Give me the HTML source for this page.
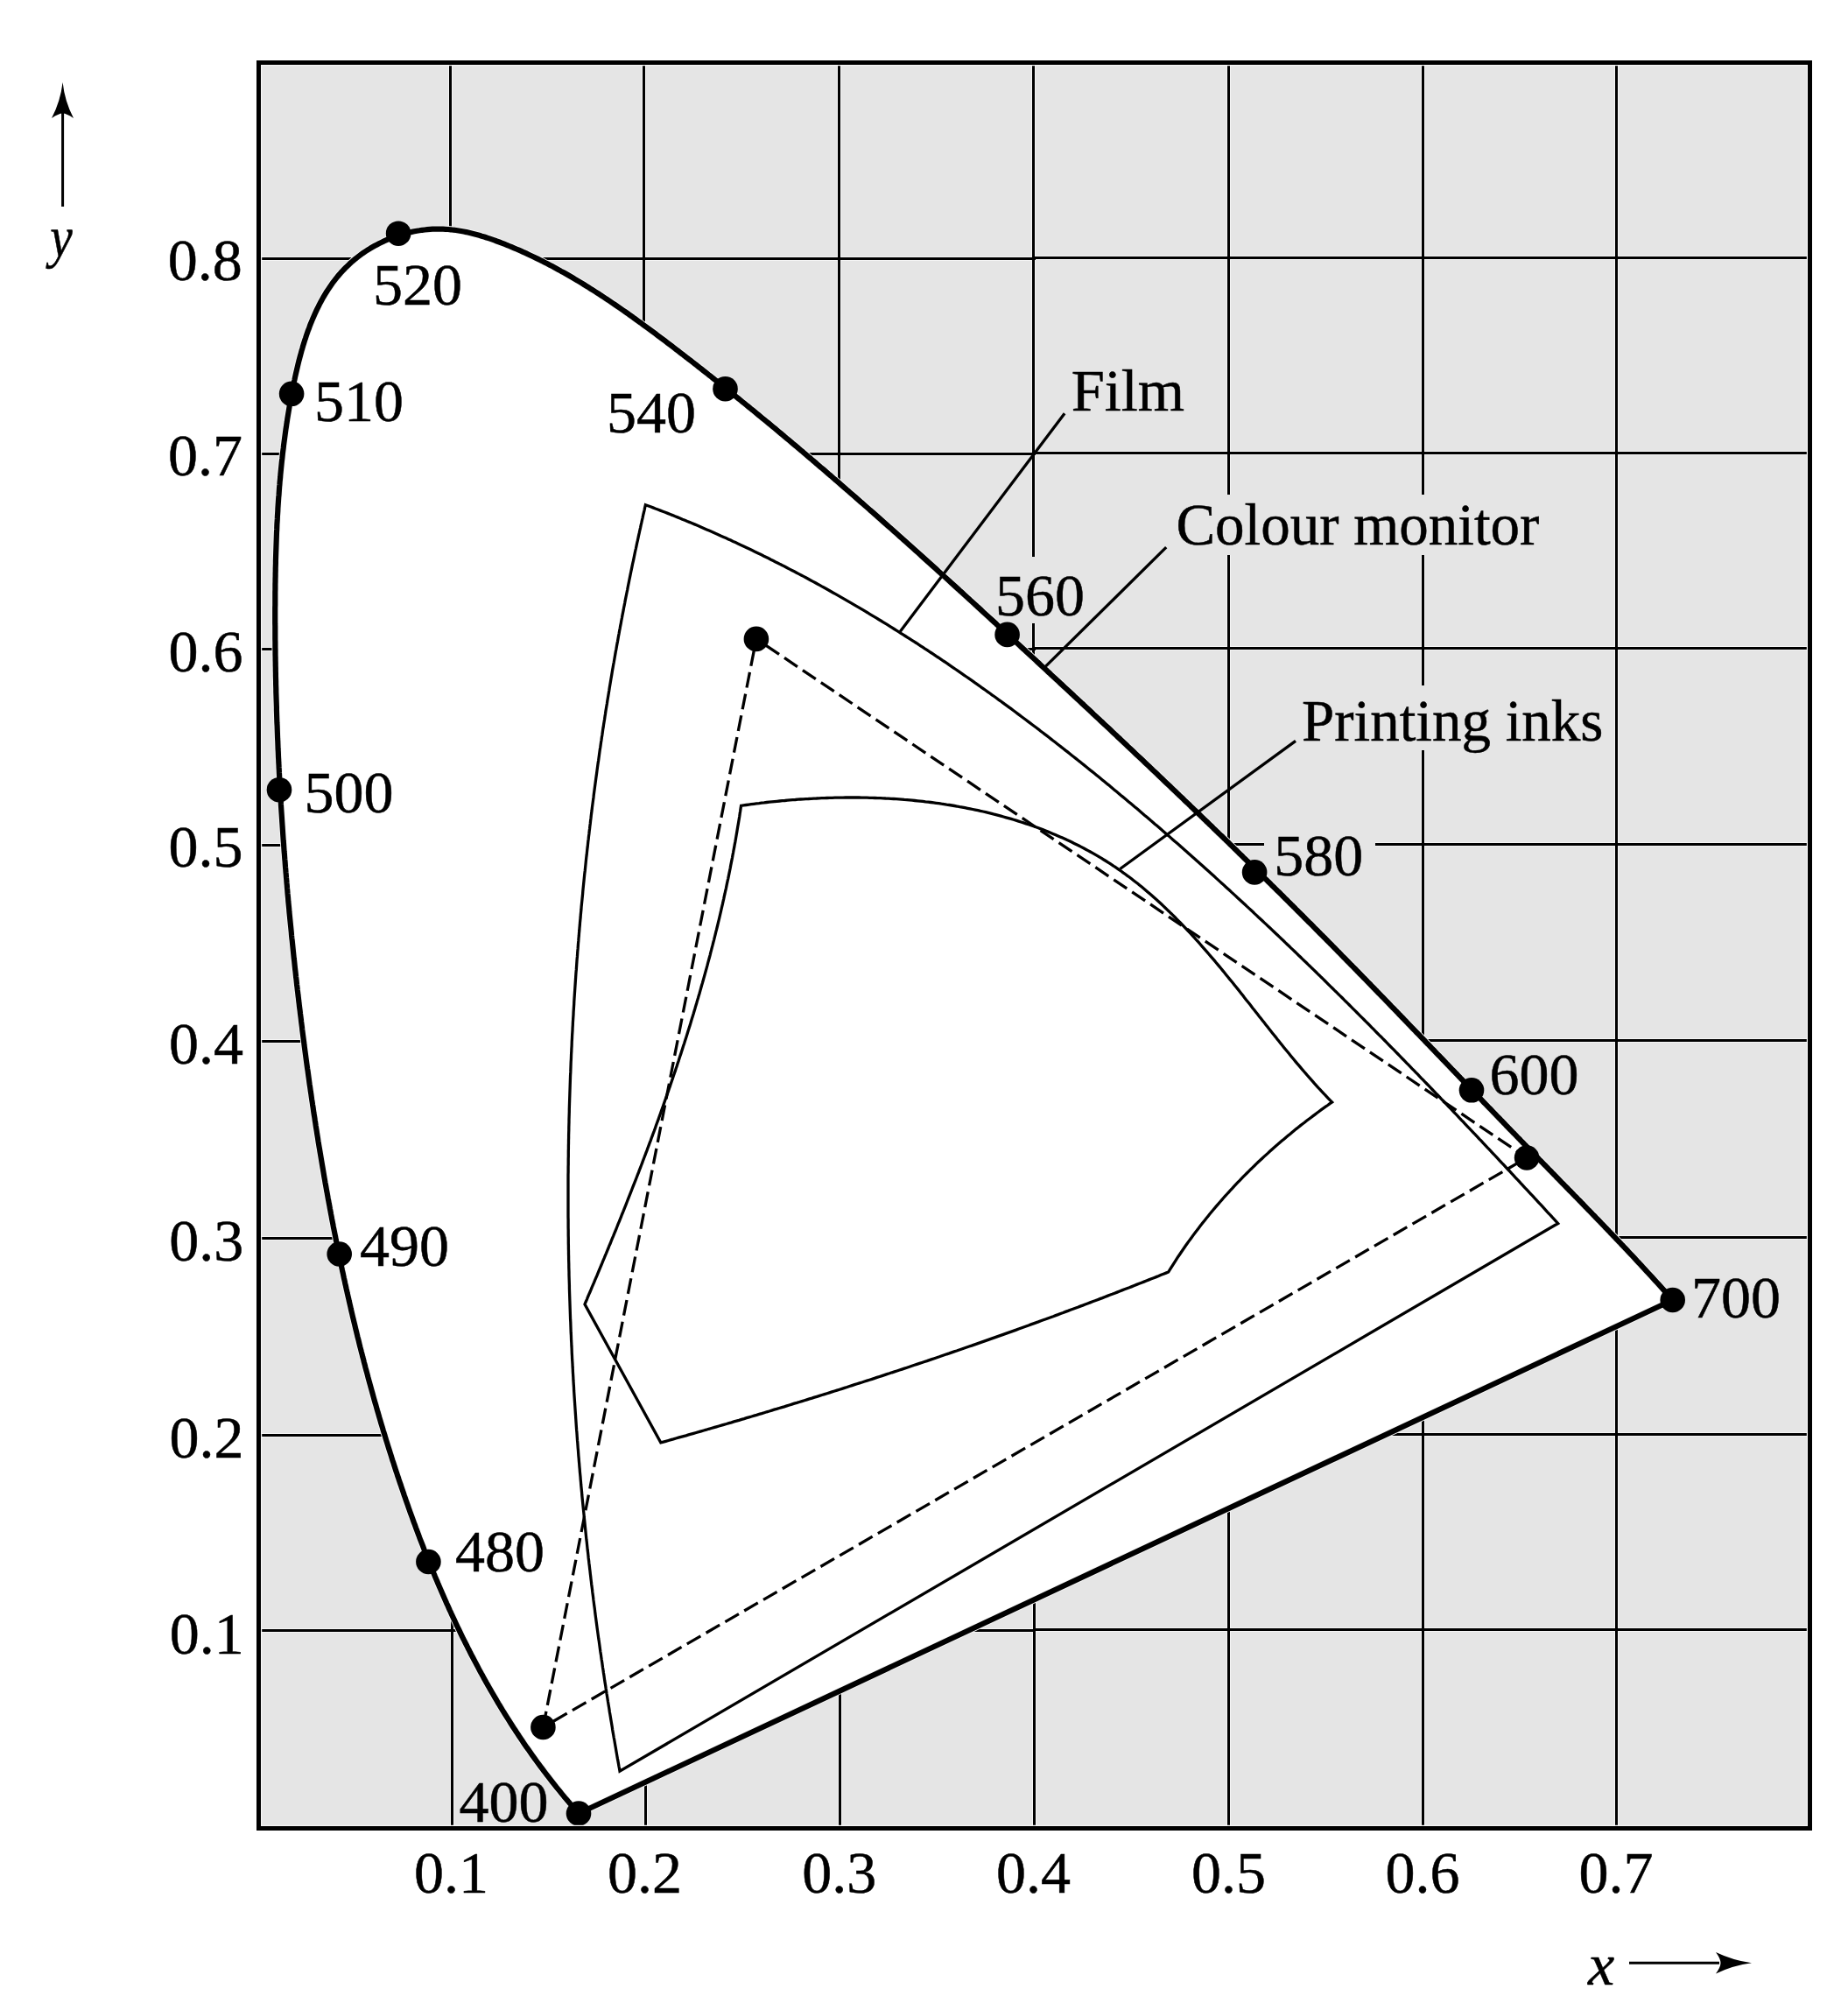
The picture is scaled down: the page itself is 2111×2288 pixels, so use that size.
<!DOCTYPE html><html><head><meta charset="utf-8"><style>html,body{margin:0;padding:0;background:#fff;}svg{display:block}</style></head><body>
<svg width="2111" height="2288" viewBox="0 0 2111 2288">
<rect x="0" y="0" width="2111" height="2288" fill="#fff"/>
<rect x="298" y="74" width="1767" height="2012" fill="#e5e5e5"/>
<path d="M514.5,74.0 L514.5,744.7 M515.5,744.7 L515.5,1415.3 M516.5,1415.3 L516.5,2086.0 M735.5,74.0 L735.5,744.7 M736.5,744.7 L736.5,1415.3 M737.5,1415.3 L737.5,2086.0 M958.5,74.0 L958.5,1080.0 M959.5,1080.0 L959.5,2086.0 M1180.5,74.0 L1180.5,1080.0 M1181.5,1080.0 L1181.5,2086.0 M1403.5,74.0 L1403.5,2086.0 M1625.5,74.0 L1625.5,2086.0 M1846.5,74.0 L1846.5,2086.0 M298.0,295.5 L1181.5,295.5 M1181.5,294.5 L2065.0,294.5 M298.0,518.5 L1181.5,518.5 M1181.5,517.5 L2065.0,517.5 M298.0,741.5 L1181.5,741.5 M1181.5,740.5 L2065.0,740.5 M298.0,965.5 L1181.5,965.5 M1181.5,964.5 L2065.0,964.5 M298.0,1189.5 L1181.5,1189.5 M1181.5,1188.5 L2065.0,1188.5 M298.0,1414.5 L1181.5,1414.5 M1181.5,1413.5 L2065.0,1413.5 M298.0,1639.5 L1181.5,1639.5 M1181.5,1638.5 L2065.0,1638.5 M298.0,1862.5 L1181.5,1862.5 M1181.5,1861.5 L2065.0,1861.5" stroke="#f5f5f5" stroke-width="5" fill="none" stroke-linecap="butt"/>
<path d="M514.5,74.0 L514.5,744.7 M515.5,744.7 L515.5,1415.3 M516.5,1415.3 L516.5,2086.0 M735.5,74.0 L735.5,744.7 M736.5,744.7 L736.5,1415.3 M737.5,1415.3 L737.5,2086.0 M958.5,74.0 L958.5,1080.0 M959.5,1080.0 L959.5,2086.0 M1180.5,74.0 L1180.5,1080.0 M1181.5,1080.0 L1181.5,2086.0 M1403.5,74.0 L1403.5,2086.0 M1625.5,74.0 L1625.5,2086.0 M1846.5,74.0 L1846.5,2086.0 M298.0,295.5 L1181.5,295.5 M1181.5,294.5 L2065.0,294.5 M298.0,518.5 L1181.5,518.5 M1181.5,517.5 L2065.0,517.5 M298.0,741.5 L1181.5,741.5 M1181.5,740.5 L2065.0,740.5 M298.0,965.5 L1181.5,965.5 M1181.5,964.5 L2065.0,964.5 M298.0,1189.5 L1181.5,1189.5 M1181.5,1188.5 L2065.0,1188.5 M298.0,1414.5 L1181.5,1414.5 M1181.5,1413.5 L2065.0,1413.5 M298.0,1639.5 L1181.5,1639.5 M1181.5,1638.5 L2065.0,1638.5 M298.0,1862.5 L1181.5,1862.5 M1181.5,1861.5 L2065.0,1861.5" stroke="#000" stroke-width="3" fill="none" stroke-linecap="square"/>
<path d="M661.0,2071.5L659.0,2069.2L657.0,2067.0L655.0,2064.7L653.0,2062.4L651.1,2060.1L649.1,2057.8L647.2,2055.5L645.2,2053.2L643.3,2050.9L641.4,2048.6L639.5,2046.2L637.6,2043.9L635.7,2041.6L633.8,2039.2L632.0,2036.9L630.1,2034.5L628.3,2032.1L626.4,2029.7L624.6,2027.4L622.8,2025.0L621.0,2022.6L619.2,2020.2L617.4,2017.8L615.6,2015.4L613.8,2013.0L612.0,2010.5L610.3,2008.1L608.5,2005.7L606.8,2003.2L605.1,2000.8L603.4,1998.3L601.6,1995.9L599.9,1993.4L598.2,1990.9L596.6,1988.5L594.9,1986.0L593.2,1983.5L591.6,1981.0L589.9,1978.5L588.3,1976.0L586.6,1973.5L585.0,1971.0L583.4,1968.5L581.8,1965.9L580.2,1963.4L578.6,1960.9L577.0,1958.3L575.5,1955.8L573.9,1953.3L572.3,1950.7L570.8,1948.1L569.2,1945.6L567.7,1943.0L566.2,1940.4L564.7,1937.9L563.2,1935.3L561.7,1932.7L560.2,1930.1L558.7,1927.5L557.2,1924.9L555.7,1922.3L554.3,1919.7L552.8,1917.1L551.4,1914.4L549.9,1911.8L548.5,1909.2L547.1,1906.6L545.7,1903.9L544.3,1901.3L542.9,1898.6L541.5,1896.0L540.1,1893.3L538.7,1890.7L537.3,1888.0L536.0,1885.3L534.6,1882.7L533.3,1880.0L531.9,1877.3L530.6,1874.6L529.2,1872.0L527.9,1869.3L526.6,1866.6L525.3,1863.9L524.0,1861.2L522.7,1858.5L521.4,1855.8L520.1,1853.1L518.9,1850.3L517.6,1847.6L516.3,1844.9L515.1,1842.2L513.8,1839.5L512.6,1836.7L511.4,1834.0L510.1,1831.3L508.9,1828.5L507.7,1825.8L506.5,1823.0L505.3,1820.3L504.1,1817.5L502.9,1814.8L501.7,1812.0L500.5,1809.3L499.4,1806.5L498.2,1803.7L497.0,1801.0L495.9,1798.2L494.7,1795.4L493.6,1792.6L492.4,1789.9L491.3,1787.1L490.2,1784.3L489.1,1781.5L488.0,1778.7L486.8,1775.9L485.7,1773.1L484.6,1770.3L483.6,1767.5L482.5,1764.7L481.4,1761.9L480.3,1759.1L479.2,1756.3L478.2,1753.5L477.1,1750.7L476.1,1747.9L475.0,1745.1L474.0,1742.2L472.9,1739.4L471.9,1736.6L470.9,1733.8L469.9,1731.0L468.8,1728.1L467.8,1725.3L466.8,1722.5L465.8,1719.6L464.8,1716.8L463.8,1714.0L462.8,1711.1L461.8,1708.3L460.9,1705.5L459.9,1702.6L458.9,1699.8L458.0,1696.9L457.0,1694.1L456.0,1691.3L455.1,1688.4L454.1,1685.6L453.2,1682.7L452.2,1679.9L451.3,1677.0L450.4,1674.2L449.5,1671.3L448.5,1668.5L447.6,1665.6L446.7,1662.7L445.8,1659.9L444.9,1657.0L444.0,1654.2L443.1,1651.3L442.2,1648.4L441.3,1645.6L440.4,1642.7L439.6,1639.8L438.7,1637.0L437.8,1634.1L437.0,1631.2L436.1,1628.4L435.2,1625.5L434.4,1622.6L433.5,1619.7L432.7,1616.9L431.9,1614.0L431.0,1611.1L430.2,1608.2L429.4,1605.3L428.5,1602.5L427.7,1599.6L426.9,1596.7L426.1,1593.8L425.3,1590.9L424.5,1588.0L423.7,1585.2L422.9,1582.3L422.1,1579.4L421.3,1576.5L420.5,1573.6L419.8,1570.7L419.0,1567.8L418.2,1564.9L417.4,1562.0L416.7,1559.1L415.9,1556.2L415.2,1553.3L414.4,1550.4L413.7,1547.5L412.9,1544.6L412.2,1541.7L411.4,1538.8L410.7,1535.9L410.0,1533.0L409.3,1530.1L408.5,1527.2L407.8,1524.3L407.1,1521.3L406.4,1518.4L405.7,1515.5L405.0,1512.6L404.3,1509.7L403.6,1506.8L402.9,1503.9L402.2,1500.9L401.5,1498.0L400.8,1495.1L400.2,1492.2L399.5,1489.3L398.8,1486.3L398.2,1483.4L397.5,1480.5L396.8,1477.6L396.2,1474.7L395.5,1471.7L394.9,1468.8L394.2,1465.9L393.6,1462.9L392.9,1460.0L392.3,1457.1L391.7,1454.2L391.0,1451.2L390.4,1448.3L389.8,1445.4L389.2,1442.4L388.6,1439.5L387.9,1436.6L387.3,1433.6L386.7,1430.7L386.1,1427.7L385.5,1424.8L384.9,1421.9L384.3,1418.9L383.7,1416.0L383.2,1413.0L382.6,1410.1L382.0,1407.2L381.4,1404.2L380.8,1401.3L380.3,1398.3L379.7,1395.4L379.1,1392.4L378.6,1389.5L378.0,1386.5L377.5,1383.6L376.9,1380.6L376.4,1377.7L375.8,1374.7L375.3,1371.8L374.7,1368.8L374.2,1365.9L373.7,1362.9L373.1,1360.0L372.6,1357.0L372.1,1354.1L371.5,1351.1L371.0,1348.1L370.5,1345.2L370.0,1342.2L369.5,1339.3L369.0,1336.3L368.5,1333.4L368.0,1330.4L367.5,1327.4L367.0,1324.5L366.5,1321.5L366.0,1318.5L365.5,1315.6L365.0,1312.6L364.5,1309.7L364.0,1306.7L363.5,1303.7L363.1,1300.8L362.6,1297.8L362.1,1294.8L361.7,1291.9L361.2,1288.9L360.7,1285.9L360.3,1283.0L359.8,1280.0L359.4,1277.0L358.9,1274.1L358.4,1271.1L358.0,1268.1L357.6,1265.1L357.1,1262.2L356.7,1259.2L356.2,1256.2L355.8,1253.3L355.4,1250.3L354.9,1247.3L354.5,1244.3L354.1,1241.4L353.6,1238.4L353.2,1235.4L352.8,1232.4L352.4,1229.5L352.0,1226.5L351.6,1223.5L351.1,1220.5L350.7,1217.5L350.3,1214.6L349.9,1211.6L349.5,1208.6L349.1,1205.6L348.7,1202.7L348.3,1199.7L347.9,1196.7L347.5,1193.7L347.2,1190.7L346.8,1187.8L346.4,1184.8L346.0,1181.8L345.6,1178.8L345.2,1175.8L344.9,1172.8L344.5,1169.9L344.1,1166.9L343.8,1163.9L343.4,1160.9L343.0,1157.9L342.7,1154.9L342.3,1152.0L341.9,1149.0L341.6,1146.0L341.2,1143.0L340.9,1140.0L340.5,1137.0L340.2,1134.1L339.8,1131.1L339.5,1128.1L339.1,1125.1L338.8,1122.1L338.5,1119.1L338.1,1116.1L337.8,1113.1L337.5,1110.2L337.1,1107.2L336.8,1104.2L336.5,1101.2L336.2,1098.2L335.8,1095.2L335.5,1092.2L335.2,1089.2L334.9,1086.3L334.6,1083.3L334.3,1080.3L334.0,1077.3L333.7,1074.3L333.3,1071.3L333.0,1068.3L332.8,1065.3L332.5,1062.3L332.2,1059.3L331.9,1056.4L331.6,1053.4L331.3,1050.4L331.0,1047.4L330.7,1044.4L330.4,1041.4L330.2,1038.4L329.9,1035.4L329.6,1032.4L329.3,1029.4L329.1,1026.4L328.8,1023.4L328.5,1020.5L328.3,1017.5L328.0,1014.5L327.8,1011.5L327.5,1008.5L327.3,1005.5L327.0,1002.5L326.8,999.5L326.5,996.5L326.3,993.5L326.0,990.5L325.8,987.5L325.6,984.5L325.3,981.5L325.1,978.6L324.9,975.6L324.6,972.6L324.4,969.6L324.2,966.6L324.0,963.6L323.7,960.6L323.5,957.6L323.3,954.6L323.1,951.6L322.9,948.6L322.7,945.6L322.5,942.6L322.3,939.6L322.1,936.6L321.9,933.6L321.7,930.6L321.5,927.7L321.3,924.7L321.1,921.7L320.9,918.7L320.8,915.7L320.6,912.7L320.4,909.7L320.2,906.7L320.1,903.7L319.9,900.7L319.7,897.7L319.6,894.7L319.4,891.7L319.2,888.7L319.1,885.7L318.9,882.7L318.8,879.7L318.6,876.7L318.5,873.7L318.3,870.8L318.2,867.8L318.0,864.8L317.9,861.8L317.8,858.8L317.6,855.8L317.5,852.8L317.4,849.8L317.3,846.8L317.1,843.8L317.0,840.8L316.9,837.8L316.8,834.8L316.7,831.8L316.6,828.8L316.4,825.8L316.3,822.9L316.2,819.9L316.1,816.9L316.0,813.9L315.9,810.9L315.9,807.9L315.8,804.9L315.7,801.9L315.6,798.9L315.5,795.9L315.4,792.9L315.3,789.9L315.3,786.9L315.2,783.9L315.1,781.0L315.1,778.0L315.0,775.0L314.9,772.0L314.9,769.0L314.8,766.0L314.8,763.0L314.7,760.0L314.7,757.0L314.6,754.0L314.6,751.0L314.5,748.0L314.5,745.1L314.5,742.1L314.4,739.1L314.4,736.1L314.4,733.1L314.3,730.1L314.3,727.1L314.3,724.1L314.3,721.1L314.3,718.2L314.3,715.2L314.2,712.2L314.2,709.2L314.2,706.2L314.2,703.2L314.2,700.2L314.2,697.2L314.2,694.3L314.3,691.3L314.3,688.3L314.3,685.3L314.3,682.3L314.3,679.3L314.3,676.3L314.4,673.3L314.4,670.4L314.4,667.4L314.5,664.4L314.5,661.4L314.6,658.4L314.6,655.4L314.7,652.4L314.7,649.5L314.8,646.5L314.9,643.5L314.9,640.5L315.0,637.5L315.1,634.5L315.2,631.5L315.3,628.6L315.4,625.6L315.5,622.6L315.6,619.6L315.7,616.6L315.8,613.6L315.9,610.6L316.0,607.7L316.2,604.7L316.3,601.7L316.4,598.7L316.6,595.7L316.8,592.7L316.9,589.7L317.1,586.7L317.3,583.8L317.4,580.8L317.6,577.8L317.8,574.8L318.0,571.8L318.2,568.8L318.5,565.8L318.7,562.8L318.9,559.8L319.1,556.8L319.4,553.8L319.6,550.8L319.9,547.9L320.2,544.9L320.4,541.9L320.7,538.9L321.0,535.9L321.3,532.9L321.6,529.9L321.9,526.9L322.3,523.9L322.6,520.9L322.9,517.9L323.3,514.9L323.7,511.9L324.0,508.9L324.4,505.9L324.8,502.9L325.2,499.9L325.6,496.9L326.0,493.9L326.4,490.8L326.9,487.8L327.3,484.8L327.8,481.8L328.2,478.8L328.7,475.8L329.2,472.8L329.7,469.8L330.2,466.8L330.7,463.7L331.2,460.7L331.8,457.7L332.3,454.7L332.9,451.7L333.4,448.7L334.0,445.6L334.6,442.6L335.2,439.6L335.8,436.6L336.5,433.6L337.1,430.6L337.8,427.5L338.5,424.5L339.2,421.5L339.9,418.5L340.6,415.6L341.3,412.6L342.1,409.6L342.9,406.6L343.7,403.7L344.5,400.7L345.4,397.8L346.2,394.9L347.1,392.0L348.0,389.1L349.0,386.2L349.9,383.3L350.9,380.5L351.9,377.6L353.0,374.8L354.0,372.0L355.1,369.2L356.3,366.4L357.4,363.7L358.6,361.0L359.8,358.2L361.0,355.6L362.3,352.9L363.6,350.3L364.9,347.6L366.3,345.0L367.7,342.5L369.1,339.9L370.6,337.4L372.1,334.9L373.6,332.5L375.2,330.1L376.8,327.7L378.5,325.3L380.1,322.9L381.9,320.6L383.6,318.4L385.4,316.1L387.3,313.9L389.2,311.7L391.1,309.6L393.1,307.5L395.1,305.4L397.2,303.4L399.3,301.4L401.4,299.5L403.6,297.6L405.9,295.7L408.2,293.9L410.5,292.1L412.9,290.3L415.3,288.6L417.7,287.0L420.2,285.4L422.8,283.8L425.4,282.3L428.0,280.8L430.6,279.4L433.3,278.0L436.0,276.7L438.7,275.4L441.5,274.2L444.2,273.0L447.0,271.9L449.9,270.8L452.7,269.8L455.6,268.9L458.5,268.0L461.4,267.1L464.3,266.3L467.2,265.6L470.2,264.9L473.2,264.3L476.1,263.7L479.1,263.3L482.1,262.8L485.1,262.5L488.1,262.2L491.1,261.9L494.1,261.7L497.1,261.6L500.1,261.6L503.1,261.6L506.1,261.7L509.0,261.8L512.0,262.0L515.0,262.3L518.0,262.7L520.9,263.0L523.9,263.5L526.9,264.0L529.8,264.5L532.7,265.1L535.7,265.8L538.6,266.5L541.5,267.2L544.5,268.0L547.4,268.8L550.3,269.7L553.2,270.5L556.0,271.5L558.9,272.4L561.8,273.4L564.7,274.4L567.5,275.5L570.4,276.5L573.2,277.6L576.0,278.7L578.9,279.8L581.7,281.0L584.5,282.2L587.2,283.3L590.0,284.5L592.8,285.7L595.6,286.9L598.3,288.2L601.1,289.4L603.8,290.7L606.5,292.0L609.2,293.3L612.0,294.6L614.7,295.9L617.4,297.2L620.0,298.6L622.7,300.0L625.4,301.3L628.0,302.7L630.7,304.1L633.3,305.5L636.0,307.0L638.6,308.4L641.2,309.9L643.9,311.3L646.5,312.8L649.1,314.3L651.7,315.8L654.3,317.3L656.8,318.8L659.4,320.4L662.0,321.9L664.5,323.4L667.1,325.0L669.6,326.6L672.2,328.2L674.7,329.8L677.3,331.4L679.8,333.0L682.3,334.6L684.8,336.2L687.3,337.9L689.8,339.5L692.3,341.2L694.8,342.8L697.3,344.5L699.8,346.2L702.3,347.9L704.8,349.6L707.2,351.3L709.7,353.0L712.2,354.7L714.6,356.4L717.1,358.1L719.5,359.9L722.0,361.6L724.4,363.4L726.8,365.1L729.3,366.9L731.7,368.6L734.1,370.4L736.5,372.2L739.0,374.0L741.4,375.7L743.8,377.5L746.2,379.3L748.6,381.1L751.0,382.9L753.4,384.7L755.8,386.5L758.2,388.3L760.6,390.1L763.0,392.0L765.4,393.8L767.8,395.6L770.1,397.4L772.5,399.3L774.9,401.1L777.3,402.9L779.7,404.7L782.0,406.6L784.4,408.4L786.8,410.3L789.2,412.1L791.5,413.9L793.9,415.8L796.3,417.6L798.6,419.5L801.0,421.3L803.4,423.2L805.7,425.0L808.1,426.9L810.4,428.8L812.8,430.6L815.1,432.5L817.5,434.4L819.8,436.2L822.2,438.1L824.5,440.0L826.9,441.8L829.2,443.7L831.6,445.6L833.9,447.5L836.2,449.3L838.6,451.2L840.9,453.1L843.2,455.0L845.6,456.9L847.9,458.8L850.2,460.7L852.6,462.6L854.9,464.5L857.2,466.4L859.5,468.2L861.9,470.2L864.2,472.1L866.5,474.0L868.8,475.9L871.1,477.8L873.4,479.7L875.8,481.6L878.1,483.5L880.4,485.4L882.7,487.3L885.0,489.2L887.3,491.2L889.6,493.1L891.9,495.0L894.2,496.9L896.5,498.9L898.8,500.8L901.1,502.7L903.4,504.6L905.7,506.6L908.0,508.5L910.3,510.4L912.6,512.4L914.9,514.3L917.2,516.2L919.4,518.2L921.7,520.1L924.0,522.1L926.3,524.0L928.6,526.0L930.9,527.9L933.1,529.9L935.4,531.8L937.7,533.8L940.0,535.7L942.3,537.7L944.5,539.6L946.8,541.6L949.1,543.5L951.3,545.5L953.6,547.5L955.9,549.4L958.2,551.4L960.4,553.3L962.7,555.3L965.0,557.3L967.2,559.3L969.5,561.2L971.7,563.2L974.0,565.2L976.3,567.1L978.5,569.1L980.8,571.1L983.0,573.1L985.3,575.0L987.5,577.0L989.8,579.0L992.1,581.0L994.3,583.0L996.6,584.9L998.8,586.9L1001.1,588.9L1003.3,590.9L1005.6,592.9L1007.8,594.9L1010.0,596.9L1012.3,598.9L1014.5,600.9L1016.8,602.8L1019.0,604.8L1021.3,606.8L1023.5,608.8L1025.7,610.8L1028.0,612.8L1030.2,614.8L1032.5,616.8L1034.7,618.8L1036.9,620.8L1039.2,622.8L1041.4,624.8L1043.6,626.8L1045.9,628.8L1048.1,630.8L1050.3,632.8L1052.6,634.9L1054.8,636.9L1057.0,638.9L1059.2,640.9L1061.5,642.9L1063.7,644.9L1065.9,646.9L1068.2,648.9L1070.4,650.9L1072.6,653.0L1074.8,655.0L1077.0,657.0L1079.3,659.0L1081.5,661.0L1083.7,663.0L1085.9,665.1L1088.2,667.1L1090.4,669.1L1092.6,671.1L1094.8,673.1L1097.0,675.2L1099.3,677.2L1101.5,679.2L1103.7,681.2L1105.9,683.2L1108.1,685.3L1110.3,687.3L1112.5,689.3L1114.8,691.3L1117.0,693.4L1119.2,695.4L1121.4,697.4L1123.6,699.5L1125.8,701.5L1128.0,703.5L1130.2,705.5L1132.5,707.6L1134.7,709.6L1136.9,711.6L1139.1,713.7L1141.3,715.7L1143.5,717.7L1145.7,719.8L1147.9,721.8L1150.1,723.8L1152.3,725.9L1154.6,727.9L1156.8,729.9L1159.0,732.0L1161.2,734.0L1163.4,736.0L1165.6,738.1L1167.8,740.1L1170.0,742.1L1172.2,744.2L1174.4,746.2L1176.6,748.2L1178.8,750.3L1181.0,752.3L1183.2,754.3L1185.4,756.4L1187.6,758.4L1189.8,760.5L1192.0,762.5L1194.2,764.5L1196.4,766.6L1198.6,768.6L1200.8,770.7L1203.0,772.7L1205.2,774.7L1207.4,776.8L1209.6,778.8L1211.8,780.9L1214.0,782.9L1216.2,785.0L1218.4,787.0L1220.6,789.0L1222.8,791.1L1225.0,793.1L1227.2,795.2L1229.4,797.2L1231.6,799.3L1233.8,801.3L1236.0,803.4L1238.2,805.4L1240.4,807.5L1242.6,809.5L1244.8,811.6L1246.9,813.6L1249.1,815.7L1251.3,817.7L1253.5,819.8L1255.7,821.8L1257.9,823.9L1260.1,825.9L1262.3,828.0L1264.5,830.0L1266.7,832.1L1268.8,834.1L1271.0,836.2L1273.2,838.3L1275.4,840.3L1277.6,842.4L1279.8,844.4L1282.0,846.5L1284.1,848.5L1286.3,850.6L1288.5,852.7L1290.7,854.7L1292.9,856.8L1295.0,858.8L1297.2,860.9L1299.4,863.0L1301.6,865.0L1303.8,867.1L1305.9,869.1L1308.1,871.2L1310.3,873.3L1312.5,875.3L1314.7,877.4L1316.8,879.5L1319.0,881.5L1321.2,883.6L1323.4,885.7L1325.5,887.7L1327.7,889.8L1329.9,891.9L1332.0,893.9L1334.2,896.0L1336.4,898.1L1338.6,900.2L1340.7,902.2L1342.9,904.3L1345.1,906.4L1347.2,908.5L1349.4,910.5L1351.6,912.6L1353.7,914.7L1355.9,916.8L1358.1,918.8L1360.2,920.9L1362.4,923.0L1364.5,925.1L1366.7,927.1L1368.9,929.2L1371.0,931.3L1373.2,933.4L1375.3,935.5L1377.5,937.6L1379.7,939.6L1381.8,941.7L1384.0,943.8L1386.1,945.9L1388.3,948.0L1390.4,950.1L1392.6,952.2L1394.8,954.2L1396.9,956.3L1399.1,958.4L1401.2,960.5L1403.4,962.6L1405.5,964.7L1407.7,966.8L1409.8,968.9L1412.0,971.0L1414.1,973.1L1416.2,975.2L1418.4,977.3L1420.5,979.4L1422.7,981.5L1424.8,983.6L1427.0,985.6L1429.1,987.7L1431.3,989.8L1433.4,991.9L1435.5,994.1L1437.7,996.2L1439.8,998.3L1442.0,1000.4L1444.1,1002.5L1446.2,1004.6L1448.4,1006.7L1450.5,1008.8L1452.6,1010.9L1454.8,1013.0L1456.9,1015.1L1459.0,1017.2L1461.2,1019.3L1463.3,1021.4L1465.4,1023.5L1467.5,1025.7L1469.7,1027.8L1471.8,1029.9L1473.9,1032.0L1476.0,1034.1L1478.2,1036.2L1480.3,1038.4L1482.4,1040.5L1484.5,1042.6L1486.7,1044.7L1488.8,1046.8L1490.9,1049.0L1493.0,1051.1L1495.1,1053.2L1497.3,1055.3L1499.4,1057.4L1501.5,1059.6L1503.6,1061.7L1505.7,1063.8L1507.8,1066.0L1509.9,1068.1L1512.1,1070.2L1514.2,1072.3L1516.3,1074.5L1518.4,1076.6L1520.5,1078.7L1522.6,1080.9L1524.7,1083.0L1526.8,1085.1L1528.9,1087.3L1531.0,1089.4L1533.1,1091.6L1535.2,1093.7L1537.3,1095.8L1539.4,1098.0L1541.5,1100.1L1543.6,1102.3L1545.7,1104.4L1547.8,1106.5L1549.9,1108.7L1552.0,1110.8L1554.1,1113.0L1556.2,1115.1L1558.3,1117.3L1560.4,1119.4L1562.5,1121.6L1564.6,1123.7L1566.6,1125.9L1568.7,1128.0L1570.8,1130.2L1572.9,1132.3L1575.0,1134.5L1577.1,1136.6L1579.2,1138.8L1581.3,1140.9L1583.4,1143.1L1585.4,1145.2L1587.5,1147.4L1589.6,1149.6L1591.7,1151.7L1593.8,1153.9L1595.9,1156.0L1597.9,1158.2L1600.0,1160.3L1602.1,1162.5L1604.2,1164.7L1606.3,1166.8L1608.3,1169.0L1610.4,1171.1L1612.5,1173.3L1614.6,1175.5L1616.7,1177.6L1618.7,1179.8L1620.8,1181.9L1622.9,1184.1L1625.0,1186.3L1627.1,1188.4L1629.1,1190.6L1631.2,1192.7L1633.3,1194.9L1635.4,1197.1L1637.5,1199.2L1639.5,1201.4L1641.6,1203.6L1643.7,1205.7L1645.8,1207.9L1647.8,1210.0L1649.9,1212.2L1652.0,1214.4L1654.1,1216.5L1656.1,1218.7L1658.2,1220.9L1660.3,1223.0L1662.4,1225.2L1664.5,1227.3L1666.5,1229.5L1668.6,1231.7L1670.7,1233.8L1672.8,1236.0L1674.8,1238.2L1676.9,1240.3L1679.0,1242.5L1681.1,1244.6L1683.2,1246.8L1685.2,1249.0L1687.3,1251.1L1689.4,1253.3L1691.5,1255.4L1693.6,1257.6L1695.6,1259.8L1697.7,1261.9L1699.8,1264.1L1701.9,1266.2L1704.0,1268.4L1706.1,1270.6L1708.1,1272.7L1710.2,1274.9L1712.3,1277.0L1714.4,1279.2L1716.5,1281.3L1718.6,1283.5L1720.6,1285.7L1722.7,1287.8L1724.8,1290.0L1726.9,1292.1L1729.0,1294.3L1731.1,1296.4L1733.2,1298.6L1735.3,1300.7L1737.3,1302.9L1739.4,1305.0L1741.5,1307.2L1743.6,1309.3L1745.7,1311.5L1747.8,1313.6L1749.9,1315.8L1752.0,1317.9L1754.1,1320.1L1756.2,1322.2L1758.3,1324.4L1760.4,1326.5L1762.5,1328.6L1764.6,1330.8L1766.7,1332.9L1768.8,1335.1L1770.9,1337.2L1773.0,1339.4L1775.1,1341.5L1777.2,1343.6L1779.2,1345.8L1781.3,1347.9L1783.4,1350.1L1785.5,1352.2L1787.6,1354.4L1789.7,1356.5L1791.8,1358.7L1793.9,1360.8L1796.0,1362.9L1798.1,1365.1L1800.2,1367.2L1802.3,1369.4L1804.4,1371.5L1806.5,1373.7L1808.6,1375.8L1810.6,1378.0L1812.7,1380.1L1814.8,1382.3L1816.9,1384.4L1819.0,1386.6L1821.1,1388.7L1823.1,1390.9L1825.2,1393.0L1827.3,1395.2L1829.4,1397.4L1831.5,1399.5L1833.5,1401.7L1835.6,1403.8L1837.7,1406.0L1839.7,1408.2L1841.8,1410.3L1843.9,1412.5L1845.9,1414.7L1848.0,1416.8L1850.1,1419.0L1852.1,1421.2L1854.2,1423.3L1856.2,1425.5L1858.3,1427.7L1860.3,1429.9L1862.4,1432.1L1864.4,1434.2L1866.5,1436.4L1868.5,1438.6L1870.5,1440.8L1872.6,1443.0L1874.6,1445.2L1876.6,1447.4L1878.7,1449.6L1880.7,1451.8L1882.7,1454.0L1884.7,1456.2L1886.8,1458.4L1888.8,1460.6L1890.8,1462.8L1892.8,1465.0L1894.8,1467.2L1896.8,1469.4L1898.8,1471.6L1900.8,1473.9L1902.8,1476.1L1904.8,1478.3L1906.7,1480.5L1908.7,1482.8L1910.7,1485.0 L661.0,2071.5 Z" fill="#fff" stroke="none"/>
<rect x="1170" y="636" width="22" height="76" fill="#e5e5e5"/>
<rect x="1392" y="565" width="22" height="69" fill="#e5e5e5"/>
<rect x="1614" y="565" width="22" height="69" fill="#e5e5e5"/>
<rect x="1614" y="783" width="22" height="74" fill="#e5e5e5"/>
<rect x="1444" y="954" width="127" height="22" fill="#e5e5e5"/>
<path d="M661.0,2071.5L659.0,2069.2L657.0,2067.0L655.0,2064.7L653.0,2062.4L651.1,2060.1L649.1,2057.8L647.2,2055.5L645.2,2053.2L643.3,2050.9L641.4,2048.6L639.5,2046.2L637.6,2043.9L635.7,2041.6L633.8,2039.2L632.0,2036.9L630.1,2034.5L628.3,2032.1L626.4,2029.7L624.6,2027.4L622.8,2025.0L621.0,2022.6L619.2,2020.2L617.4,2017.8L615.6,2015.4L613.8,2013.0L612.0,2010.5L610.3,2008.1L608.5,2005.7L606.8,2003.2L605.1,2000.8L603.4,1998.3L601.6,1995.9L599.9,1993.4L598.2,1990.9L596.6,1988.5L594.9,1986.0L593.2,1983.5L591.6,1981.0L589.9,1978.5L588.3,1976.0L586.6,1973.5L585.0,1971.0L583.4,1968.5L581.8,1965.9L580.2,1963.4L578.6,1960.9L577.0,1958.3L575.5,1955.8L573.9,1953.3L572.3,1950.7L570.8,1948.1L569.2,1945.6L567.7,1943.0L566.2,1940.4L564.7,1937.9L563.2,1935.3L561.7,1932.7L560.2,1930.1L558.7,1927.5L557.2,1924.9L555.7,1922.3L554.3,1919.7L552.8,1917.1L551.4,1914.4L549.9,1911.8L548.5,1909.2L547.1,1906.6L545.7,1903.9L544.3,1901.3L542.9,1898.6L541.5,1896.0L540.1,1893.3L538.7,1890.7L537.3,1888.0L536.0,1885.3L534.6,1882.7L533.3,1880.0L531.9,1877.3L530.6,1874.6L529.2,1872.0L527.9,1869.3L526.6,1866.6L525.3,1863.9L524.0,1861.2L522.7,1858.5L521.4,1855.8L520.1,1853.1L518.9,1850.3L517.6,1847.6L516.3,1844.9L515.1,1842.2L513.8,1839.5L512.6,1836.7L511.4,1834.0L510.1,1831.3L508.9,1828.5L507.7,1825.8L506.5,1823.0L505.3,1820.3L504.1,1817.5L502.9,1814.8L501.7,1812.0L500.5,1809.3L499.4,1806.5L498.2,1803.7L497.0,1801.0L495.9,1798.2L494.7,1795.4L493.6,1792.6L492.4,1789.9L491.3,1787.1L490.2,1784.3L489.1,1781.5L488.0,1778.7L486.8,1775.9L485.7,1773.1L484.6,1770.3L483.6,1767.5L482.5,1764.7L481.4,1761.9L480.3,1759.1L479.2,1756.3L478.2,1753.5L477.1,1750.7L476.1,1747.9L475.0,1745.1L474.0,1742.2L472.9,1739.4L471.9,1736.6L470.9,1733.8L469.9,1731.0L468.8,1728.1L467.8,1725.3L466.8,1722.5L465.8,1719.6L464.8,1716.8L463.8,1714.0L462.8,1711.1L461.8,1708.3L460.9,1705.5L459.9,1702.6L458.9,1699.8L458.0,1696.9L457.0,1694.1L456.0,1691.3L455.1,1688.4L454.1,1685.6L453.2,1682.7L452.2,1679.9L451.3,1677.0L450.4,1674.2L449.5,1671.3L448.5,1668.5L447.6,1665.6L446.7,1662.7L445.8,1659.9L444.9,1657.0L444.0,1654.2L443.1,1651.3L442.2,1648.4L441.3,1645.6L440.4,1642.7L439.6,1639.8L438.7,1637.0L437.8,1634.1L437.0,1631.2L436.1,1628.4L435.2,1625.5L434.4,1622.6L433.5,1619.7L432.7,1616.9L431.9,1614.0L431.0,1611.1L430.2,1608.2L429.4,1605.3L428.5,1602.5L427.7,1599.6L426.9,1596.7L426.1,1593.8L425.3,1590.9L424.5,1588.0L423.7,1585.2L422.9,1582.3L422.1,1579.4L421.3,1576.5L420.5,1573.6L419.8,1570.7L419.0,1567.8L418.2,1564.9L417.4,1562.0L416.7,1559.1L415.9,1556.2L415.2,1553.3L414.4,1550.4L413.7,1547.5L412.9,1544.6L412.2,1541.7L411.4,1538.8L410.7,1535.9L410.0,1533.0L409.3,1530.1L408.5,1527.2L407.8,1524.3L407.1,1521.3L406.4,1518.4L405.7,1515.5L405.0,1512.6L404.3,1509.7L403.6,1506.8L402.9,1503.9L402.2,1500.9L401.5,1498.0L400.8,1495.1L400.2,1492.2L399.5,1489.3L398.8,1486.3L398.2,1483.4L397.5,1480.5L396.8,1477.6L396.2,1474.7L395.5,1471.7L394.9,1468.8L394.2,1465.9L393.6,1462.9L392.9,1460.0L392.3,1457.1L391.7,1454.2L391.0,1451.2L390.4,1448.3L389.8,1445.4L389.2,1442.4L388.6,1439.5L387.9,1436.6L387.3,1433.6L386.7,1430.7L386.1,1427.7L385.5,1424.8L384.9,1421.9L384.3,1418.9L383.7,1416.0L383.2,1413.0L382.6,1410.1L382.0,1407.2L381.4,1404.2L380.8,1401.3L380.3,1398.3L379.7,1395.4L379.1,1392.4L378.6,1389.5L378.0,1386.5L377.5,1383.6L376.9,1380.6L376.4,1377.7L375.8,1374.7L375.3,1371.8L374.7,1368.8L374.2,1365.9L373.7,1362.9L373.1,1360.0L372.6,1357.0L372.1,1354.1L371.5,1351.1L371.0,1348.1L370.5,1345.2L370.0,1342.2L369.5,1339.3L369.0,1336.3L368.5,1333.4L368.0,1330.4L367.5,1327.4L367.0,1324.5L366.5,1321.5L366.0,1318.5L365.5,1315.6L365.0,1312.6L364.5,1309.7L364.0,1306.7L363.5,1303.7L363.1,1300.8L362.6,1297.8L362.1,1294.8L361.7,1291.9L361.2,1288.9L360.7,1285.9L360.3,1283.0L359.8,1280.0L359.4,1277.0L358.9,1274.1L358.4,1271.1L358.0,1268.1L357.6,1265.1L357.1,1262.2L356.7,1259.2L356.2,1256.2L355.8,1253.3L355.4,1250.3L354.9,1247.3L354.5,1244.3L354.1,1241.4L353.6,1238.4L353.2,1235.4L352.8,1232.4L352.4,1229.5L352.0,1226.5L351.6,1223.5L351.1,1220.5L350.7,1217.5L350.3,1214.6L349.9,1211.6L349.5,1208.6L349.1,1205.6L348.7,1202.7L348.3,1199.7L347.9,1196.7L347.5,1193.7L347.2,1190.7L346.8,1187.8L346.4,1184.8L346.0,1181.8L345.6,1178.8L345.2,1175.8L344.9,1172.8L344.5,1169.9L344.1,1166.9L343.8,1163.9L343.4,1160.9L343.0,1157.9L342.7,1154.9L342.3,1152.0L341.9,1149.0L341.6,1146.0L341.2,1143.0L340.9,1140.0L340.5,1137.0L340.2,1134.1L339.8,1131.1L339.5,1128.1L339.1,1125.1L338.8,1122.1L338.5,1119.1L338.1,1116.1L337.8,1113.1L337.5,1110.2L337.1,1107.2L336.8,1104.2L336.5,1101.2L336.2,1098.2L335.8,1095.2L335.5,1092.2L335.2,1089.2L334.9,1086.3L334.6,1083.3L334.3,1080.3L334.0,1077.3L333.7,1074.3L333.3,1071.3L333.0,1068.3L332.8,1065.3L332.5,1062.3L332.2,1059.3L331.9,1056.4L331.6,1053.4L331.3,1050.4L331.0,1047.4L330.7,1044.4L330.4,1041.4L330.2,1038.4L329.9,1035.4L329.6,1032.4L329.3,1029.4L329.1,1026.4L328.8,1023.4L328.5,1020.5L328.3,1017.5L328.0,1014.5L327.8,1011.5L327.5,1008.5L327.3,1005.5L327.0,1002.5L326.8,999.5L326.5,996.5L326.3,993.5L326.0,990.5L325.8,987.5L325.6,984.5L325.3,981.5L325.1,978.6L324.9,975.6L324.6,972.6L324.4,969.6L324.2,966.6L324.0,963.6L323.7,960.6L323.5,957.6L323.3,954.6L323.1,951.6L322.9,948.6L322.7,945.6L322.5,942.6L322.3,939.6L322.1,936.6L321.9,933.6L321.7,930.6L321.5,927.7L321.3,924.7L321.1,921.7L320.9,918.7L320.8,915.7L320.6,912.7L320.4,909.7L320.2,906.7L320.1,903.7L319.9,900.7L319.7,897.7L319.6,894.7L319.4,891.7L319.2,888.7L319.1,885.7L318.9,882.7L318.8,879.7L318.6,876.7L318.5,873.7L318.3,870.8L318.2,867.8L318.0,864.8L317.9,861.8L317.8,858.8L317.6,855.8L317.5,852.8L317.4,849.8L317.3,846.8L317.1,843.8L317.0,840.8L316.9,837.8L316.8,834.8L316.7,831.8L316.6,828.8L316.4,825.8L316.3,822.9L316.2,819.9L316.1,816.9L316.0,813.9L315.9,810.9L315.9,807.9L315.8,804.9L315.7,801.9L315.6,798.9L315.5,795.9L315.4,792.9L315.3,789.9L315.3,786.9L315.2,783.9L315.1,781.0L315.1,778.0L315.0,775.0L314.9,772.0L314.9,769.0L314.8,766.0L314.8,763.0L314.7,760.0L314.7,757.0L314.6,754.0L314.6,751.0L314.5,748.0L314.5,745.1L314.5,742.1L314.4,739.1L314.4,736.1L314.4,733.1L314.3,730.1L314.3,727.1L314.3,724.1L314.3,721.1L314.3,718.2L314.3,715.2L314.2,712.2L314.2,709.2L314.2,706.2L314.2,703.2L314.2,700.2L314.2,697.2L314.2,694.3L314.3,691.3L314.3,688.3L314.3,685.3L314.3,682.3L314.3,679.3L314.3,676.3L314.4,673.3L314.4,670.4L314.4,667.4L314.5,664.4L314.5,661.4L314.6,658.4L314.6,655.4L314.7,652.4L314.7,649.5L314.8,646.5L314.9,643.5L314.9,640.5L315.0,637.5L315.1,634.5L315.2,631.5L315.3,628.6L315.4,625.6L315.5,622.6L315.6,619.6L315.7,616.6L315.8,613.6L315.9,610.6L316.0,607.7L316.2,604.7L316.3,601.7L316.4,598.7L316.6,595.7L316.8,592.7L316.9,589.7L317.1,586.7L317.3,583.8L317.4,580.8L317.6,577.8L317.8,574.8L318.0,571.8L318.2,568.8L318.5,565.8L318.7,562.8L318.9,559.8L319.1,556.8L319.4,553.8L319.6,550.8L319.9,547.9L320.2,544.9L320.4,541.9L320.7,538.9L321.0,535.9L321.3,532.9L321.6,529.9L321.9,526.9L322.3,523.9L322.6,520.9L322.9,517.9L323.3,514.9L323.7,511.9L324.0,508.9L324.4,505.9L324.8,502.9L325.2,499.9L325.6,496.9L326.0,493.9L326.4,490.8L326.9,487.8L327.3,484.8L327.8,481.8L328.2,478.8L328.7,475.8L329.2,472.8L329.7,469.8L330.2,466.8L330.7,463.7L331.2,460.7L331.8,457.7L332.3,454.7L332.9,451.7L333.4,448.7L334.0,445.6L334.6,442.6L335.2,439.6L335.8,436.6L336.5,433.6L337.1,430.6L337.8,427.5L338.5,424.5L339.2,421.5L339.9,418.5L340.6,415.6L341.3,412.6L342.1,409.6L342.9,406.6L343.7,403.7L344.5,400.7L345.4,397.8L346.2,394.9L347.1,392.0L348.0,389.1L349.0,386.2L349.9,383.3L350.9,380.5L351.9,377.6L353.0,374.8L354.0,372.0L355.1,369.2L356.3,366.4L357.4,363.7L358.6,361.0L359.8,358.2L361.0,355.6L362.3,352.9L363.6,350.3L364.9,347.6L366.3,345.0L367.7,342.5L369.1,339.9L370.6,337.4L372.1,334.9L373.6,332.5L375.2,330.1L376.8,327.7L378.5,325.3L380.1,322.9L381.9,320.6L383.6,318.4L385.4,316.1L387.3,313.9L389.2,311.7L391.1,309.6L393.1,307.5L395.1,305.4L397.2,303.4L399.3,301.4L401.4,299.5L403.6,297.6L405.9,295.7L408.2,293.9L410.5,292.1L412.9,290.3L415.3,288.6L417.7,287.0L420.2,285.4L422.8,283.8L425.4,282.3L428.0,280.8L430.6,279.4L433.3,278.0L436.0,276.7L438.7,275.4L441.5,274.2L444.2,273.0L447.0,271.9L449.9,270.8L452.7,269.8L455.6,268.9L458.5,268.0L461.4,267.1L464.3,266.3L467.2,265.6L470.2,264.9L473.2,264.3L476.1,263.7L479.1,263.3L482.1,262.8L485.1,262.5L488.1,262.2L491.1,261.9L494.1,261.7L497.1,261.6L500.1,261.6L503.1,261.6L506.1,261.7L509.0,261.8L512.0,262.0L515.0,262.3L518.0,262.7L520.9,263.0L523.9,263.5L526.9,264.0L529.8,264.5L532.7,265.1L535.7,265.8L538.6,266.5L541.5,267.2L544.5,268.0L547.4,268.8L550.3,269.7L553.2,270.5L556.0,271.5L558.9,272.4L561.8,273.4L564.7,274.4L567.5,275.5L570.4,276.5L573.2,277.6L576.0,278.7L578.9,279.8L581.7,281.0L584.5,282.2L587.2,283.3L590.0,284.5L592.8,285.7L595.6,286.9L598.3,288.2L601.1,289.4L603.8,290.7L606.5,292.0L609.2,293.3L612.0,294.6L614.7,295.9L617.4,297.2L620.0,298.6L622.7,300.0L625.4,301.3L628.0,302.7L630.7,304.1L633.3,305.5L636.0,307.0L638.6,308.4L641.2,309.9L643.9,311.3L646.5,312.8L649.1,314.3L651.7,315.8L654.3,317.3L656.8,318.8L659.4,320.4L662.0,321.9L664.5,323.4L667.1,325.0L669.6,326.6L672.2,328.2L674.7,329.8L677.3,331.4L679.8,333.0L682.3,334.6L684.8,336.2L687.3,337.9L689.8,339.5L692.3,341.2L694.8,342.8L697.3,344.5L699.8,346.2L702.3,347.9L704.8,349.6L707.2,351.3L709.7,353.0L712.2,354.7L714.6,356.4L717.1,358.1L719.5,359.9L722.0,361.6L724.4,363.4L726.8,365.1L729.3,366.9L731.7,368.6L734.1,370.4L736.5,372.2L739.0,374.0L741.4,375.7L743.8,377.5L746.2,379.3L748.6,381.1L751.0,382.9L753.4,384.7L755.8,386.5L758.2,388.3L760.6,390.1L763.0,392.0L765.4,393.8L767.8,395.6L770.1,397.4L772.5,399.3L774.9,401.1L777.3,402.9L779.7,404.7L782.0,406.6L784.4,408.4L786.8,410.3L789.2,412.1L791.5,413.9L793.9,415.8L796.3,417.6L798.6,419.5L801.0,421.3L803.4,423.2L805.7,425.0L808.1,426.9L810.4,428.8L812.8,430.6L815.1,432.5L817.5,434.4L819.8,436.2L822.2,438.1L824.5,440.0L826.9,441.8L829.2,443.7L831.6,445.6L833.9,447.5L836.2,449.3L838.6,451.2L840.9,453.1L843.2,455.0L845.6,456.9L847.9,458.8L850.2,460.7L852.6,462.6L854.9,464.5L857.2,466.4L859.5,468.2L861.9,470.2L864.2,472.1L866.5,474.0L868.8,475.9L871.1,477.8L873.4,479.7L875.8,481.6L878.1,483.5L880.4,485.4L882.7,487.3L885.0,489.2L887.3,491.2L889.6,493.1L891.9,495.0L894.2,496.9L896.5,498.9L898.8,500.8L901.1,502.7L903.4,504.6L905.7,506.6L908.0,508.5L910.3,510.4L912.6,512.4L914.9,514.3L917.2,516.2L919.4,518.2L921.7,520.1L924.0,522.1L926.3,524.0L928.6,526.0L930.9,527.9L933.1,529.9L935.4,531.8L937.7,533.8L940.0,535.7L942.3,537.7L944.5,539.6L946.8,541.6L949.1,543.5L951.3,545.5L953.6,547.5L955.9,549.4L958.2,551.4L960.4,553.3L962.7,555.3L965.0,557.3L967.2,559.3L969.5,561.2L971.7,563.2L974.0,565.2L976.3,567.1L978.5,569.1L980.8,571.1L983.0,573.1L985.3,575.0L987.5,577.0L989.8,579.0L992.1,581.0L994.3,583.0L996.6,584.9L998.8,586.9L1001.1,588.9L1003.3,590.9L1005.6,592.9L1007.8,594.9L1010.0,596.9L1012.3,598.9L1014.5,600.9L1016.8,602.8L1019.0,604.8L1021.3,606.8L1023.5,608.8L1025.7,610.8L1028.0,612.8L1030.2,614.8L1032.5,616.8L1034.7,618.8L1036.9,620.8L1039.2,622.8L1041.4,624.8L1043.6,626.8L1045.9,628.8L1048.1,630.8L1050.3,632.8L1052.6,634.9L1054.8,636.9L1057.0,638.9L1059.2,640.9L1061.5,642.9L1063.7,644.9L1065.9,646.9L1068.2,648.9L1070.4,650.9L1072.6,653.0L1074.8,655.0L1077.0,657.0L1079.3,659.0L1081.5,661.0L1083.7,663.0L1085.9,665.1L1088.2,667.1L1090.4,669.1L1092.6,671.1L1094.8,673.1L1097.0,675.2L1099.3,677.2L1101.5,679.2L1103.7,681.2L1105.9,683.2L1108.1,685.3L1110.3,687.3L1112.5,689.3L1114.8,691.3L1117.0,693.4L1119.2,695.4L1121.4,697.4L1123.6,699.5L1125.8,701.5L1128.0,703.5L1130.2,705.5L1132.5,707.6L1134.7,709.6L1136.9,711.6L1139.1,713.7L1141.3,715.7L1143.5,717.7L1145.7,719.8L1147.9,721.8L1150.1,723.8L1152.3,725.9L1154.6,727.9L1156.8,729.9L1159.0,732.0L1161.2,734.0L1163.4,736.0L1165.6,738.1L1167.8,740.1L1170.0,742.1L1172.2,744.2L1174.4,746.2L1176.6,748.2L1178.8,750.3L1181.0,752.3L1183.2,754.3L1185.4,756.4L1187.6,758.4L1189.8,760.5L1192.0,762.5L1194.2,764.5L1196.4,766.6L1198.6,768.6L1200.8,770.7L1203.0,772.7L1205.2,774.7L1207.4,776.8L1209.6,778.8L1211.8,780.9L1214.0,782.9L1216.2,785.0L1218.4,787.0L1220.6,789.0L1222.8,791.1L1225.0,793.1L1227.2,795.2L1229.4,797.2L1231.6,799.3L1233.8,801.3L1236.0,803.4L1238.2,805.4L1240.4,807.5L1242.6,809.5L1244.8,811.6L1246.9,813.6L1249.1,815.7L1251.3,817.7L1253.5,819.8L1255.7,821.8L1257.9,823.9L1260.1,825.9L1262.3,828.0L1264.5,830.0L1266.7,832.1L1268.8,834.1L1271.0,836.2L1273.2,838.3L1275.4,840.3L1277.6,842.4L1279.8,844.4L1282.0,846.5L1284.1,848.5L1286.3,850.6L1288.5,852.7L1290.7,854.7L1292.9,856.8L1295.0,858.8L1297.2,860.9L1299.4,863.0L1301.6,865.0L1303.8,867.1L1305.9,869.1L1308.1,871.2L1310.3,873.3L1312.5,875.3L1314.7,877.4L1316.8,879.5L1319.0,881.5L1321.2,883.6L1323.4,885.7L1325.5,887.7L1327.7,889.8L1329.9,891.9L1332.0,893.9L1334.2,896.0L1336.4,898.1L1338.6,900.2L1340.7,902.2L1342.9,904.3L1345.1,906.4L1347.2,908.5L1349.4,910.5L1351.6,912.6L1353.7,914.7L1355.9,916.8L1358.1,918.8L1360.2,920.9L1362.4,923.0L1364.5,925.1L1366.7,927.1L1368.9,929.2L1371.0,931.3L1373.2,933.4L1375.3,935.5L1377.5,937.6L1379.7,939.6L1381.8,941.7L1384.0,943.8L1386.1,945.9L1388.3,948.0L1390.4,950.1L1392.6,952.2L1394.8,954.2L1396.9,956.3L1399.1,958.4L1401.2,960.5L1403.4,962.6L1405.5,964.7L1407.7,966.8L1409.8,968.9L1412.0,971.0L1414.1,973.1L1416.2,975.2L1418.4,977.3L1420.5,979.4L1422.7,981.5L1424.8,983.6L1427.0,985.6L1429.1,987.7L1431.3,989.8L1433.4,991.9L1435.5,994.1L1437.7,996.2L1439.8,998.3L1442.0,1000.4L1444.1,1002.5L1446.2,1004.6L1448.4,1006.7L1450.5,1008.8L1452.6,1010.9L1454.8,1013.0L1456.9,1015.1L1459.0,1017.2L1461.2,1019.3L1463.3,1021.4L1465.4,1023.5L1467.5,1025.7L1469.7,1027.8L1471.8,1029.9L1473.9,1032.0L1476.0,1034.1L1478.2,1036.2L1480.3,1038.4L1482.4,1040.5L1484.5,1042.6L1486.7,1044.7L1488.8,1046.8L1490.9,1049.0L1493.0,1051.1L1495.1,1053.2L1497.3,1055.3L1499.4,1057.4L1501.5,1059.6L1503.6,1061.7L1505.7,1063.8L1507.8,1066.0L1509.9,1068.1L1512.1,1070.2L1514.2,1072.3L1516.3,1074.5L1518.4,1076.6L1520.5,1078.7L1522.6,1080.9L1524.7,1083.0L1526.8,1085.1L1528.9,1087.3L1531.0,1089.4L1533.1,1091.6L1535.2,1093.7L1537.3,1095.8L1539.4,1098.0L1541.5,1100.1L1543.6,1102.3L1545.7,1104.4L1547.8,1106.5L1549.9,1108.7L1552.0,1110.8L1554.1,1113.0L1556.2,1115.1L1558.3,1117.3L1560.4,1119.4L1562.5,1121.6L1564.6,1123.7L1566.6,1125.9L1568.7,1128.0L1570.8,1130.2L1572.9,1132.3L1575.0,1134.5L1577.1,1136.6L1579.2,1138.8L1581.3,1140.9L1583.4,1143.1L1585.4,1145.2L1587.5,1147.4L1589.6,1149.6L1591.7,1151.7L1593.8,1153.9L1595.9,1156.0L1597.9,1158.2L1600.0,1160.3L1602.1,1162.5L1604.2,1164.7L1606.3,1166.8L1608.3,1169.0L1610.4,1171.1L1612.5,1173.3L1614.6,1175.5L1616.7,1177.6L1618.7,1179.8L1620.8,1181.9L1622.9,1184.1L1625.0,1186.3L1627.1,1188.4L1629.1,1190.6L1631.2,1192.7L1633.3,1194.9L1635.4,1197.1L1637.5,1199.2L1639.5,1201.4L1641.6,1203.6L1643.7,1205.7L1645.8,1207.9L1647.8,1210.0L1649.9,1212.2L1652.0,1214.4L1654.1,1216.5L1656.1,1218.7L1658.2,1220.9L1660.3,1223.0L1662.4,1225.2L1664.5,1227.3L1666.5,1229.5L1668.6,1231.7L1670.7,1233.8L1672.8,1236.0L1674.8,1238.2L1676.9,1240.3L1679.0,1242.5L1681.1,1244.6L1683.2,1246.8L1685.2,1249.0L1687.3,1251.1L1689.4,1253.3L1691.5,1255.4L1693.6,1257.6L1695.6,1259.8L1697.7,1261.9L1699.8,1264.1L1701.9,1266.2L1704.0,1268.4L1706.1,1270.6L1708.1,1272.7L1710.2,1274.9L1712.3,1277.0L1714.4,1279.2L1716.5,1281.3L1718.6,1283.5L1720.6,1285.7L1722.7,1287.8L1724.8,1290.0L1726.9,1292.1L1729.0,1294.3L1731.1,1296.4L1733.2,1298.6L1735.3,1300.7L1737.3,1302.9L1739.4,1305.0L1741.5,1307.2L1743.6,1309.3L1745.7,1311.5L1747.8,1313.6L1749.9,1315.8L1752.0,1317.9L1754.1,1320.1L1756.2,1322.2L1758.3,1324.4L1760.4,1326.5L1762.5,1328.6L1764.6,1330.8L1766.7,1332.9L1768.8,1335.1L1770.9,1337.2L1773.0,1339.4L1775.1,1341.5L1777.2,1343.6L1779.2,1345.8L1781.3,1347.9L1783.4,1350.1L1785.5,1352.2L1787.6,1354.4L1789.7,1356.5L1791.8,1358.7L1793.9,1360.8L1796.0,1362.9L1798.1,1365.1L1800.2,1367.2L1802.3,1369.4L1804.4,1371.5L1806.5,1373.7L1808.6,1375.8L1810.6,1378.0L1812.7,1380.1L1814.8,1382.3L1816.9,1384.4L1819.0,1386.6L1821.1,1388.7L1823.1,1390.9L1825.2,1393.0L1827.3,1395.2L1829.4,1397.4L1831.5,1399.5L1833.5,1401.7L1835.6,1403.8L1837.7,1406.0L1839.7,1408.2L1841.8,1410.3L1843.9,1412.5L1845.9,1414.7L1848.0,1416.8L1850.1,1419.0L1852.1,1421.2L1854.2,1423.3L1856.2,1425.5L1858.3,1427.7L1860.3,1429.9L1862.4,1432.1L1864.4,1434.2L1866.5,1436.4L1868.5,1438.6L1870.5,1440.8L1872.6,1443.0L1874.6,1445.2L1876.6,1447.4L1878.7,1449.6L1880.7,1451.8L1882.7,1454.0L1884.7,1456.2L1886.8,1458.4L1888.8,1460.6L1890.8,1462.8L1892.8,1465.0L1894.8,1467.2L1896.8,1469.4L1898.8,1471.6L1900.8,1473.9L1902.8,1476.1L1904.8,1478.3L1906.7,1480.5L1908.7,1482.8L1910.7,1485.0 L661.0,2071.5 Z" fill="none" stroke="#f6f6f6" stroke-width="8" stroke-linejoin="round"/>
<path d="M661.0,2071.5L659.0,2069.2L657.0,2067.0L655.0,2064.7L653.0,2062.4L651.1,2060.1L649.1,2057.8L647.2,2055.5L645.2,2053.2L643.3,2050.9L641.4,2048.6L639.5,2046.2L637.6,2043.9L635.7,2041.6L633.8,2039.2L632.0,2036.9L630.1,2034.5L628.3,2032.1L626.4,2029.7L624.6,2027.4L622.8,2025.0L621.0,2022.6L619.2,2020.2L617.4,2017.8L615.6,2015.4L613.8,2013.0L612.0,2010.5L610.3,2008.1L608.5,2005.7L606.8,2003.2L605.1,2000.8L603.4,1998.3L601.6,1995.9L599.9,1993.4L598.2,1990.9L596.6,1988.5L594.9,1986.0L593.2,1983.5L591.6,1981.0L589.9,1978.5L588.3,1976.0L586.6,1973.5L585.0,1971.0L583.4,1968.5L581.8,1965.9L580.2,1963.4L578.6,1960.9L577.0,1958.3L575.5,1955.8L573.9,1953.3L572.3,1950.7L570.8,1948.1L569.2,1945.6L567.7,1943.0L566.2,1940.4L564.7,1937.9L563.2,1935.3L561.7,1932.7L560.2,1930.1L558.7,1927.5L557.2,1924.9L555.7,1922.3L554.3,1919.7L552.8,1917.1L551.4,1914.4L549.9,1911.8L548.5,1909.2L547.1,1906.6L545.7,1903.9L544.3,1901.3L542.9,1898.6L541.5,1896.0L540.1,1893.3L538.7,1890.7L537.3,1888.0L536.0,1885.3L534.6,1882.7L533.3,1880.0L531.9,1877.3L530.6,1874.6L529.2,1872.0L527.9,1869.3L526.6,1866.6L525.3,1863.9L524.0,1861.2L522.7,1858.5L521.4,1855.8L520.1,1853.1L518.9,1850.3L517.6,1847.6L516.3,1844.9L515.1,1842.2L513.8,1839.5L512.6,1836.7L511.4,1834.0L510.1,1831.3L508.9,1828.5L507.7,1825.8L506.5,1823.0L505.3,1820.3L504.1,1817.5L502.9,1814.8L501.7,1812.0L500.5,1809.3L499.4,1806.5L498.2,1803.7L497.0,1801.0L495.9,1798.2L494.7,1795.4L493.6,1792.6L492.4,1789.9L491.3,1787.1L490.2,1784.3L489.1,1781.5L488.0,1778.7L486.8,1775.9L485.7,1773.1L484.6,1770.3L483.6,1767.5L482.5,1764.7L481.4,1761.9L480.3,1759.1L479.2,1756.3L478.2,1753.5L477.1,1750.7L476.1,1747.9L475.0,1745.1L474.0,1742.2L472.9,1739.4L471.9,1736.6L470.9,1733.8L469.9,1731.0L468.8,1728.1L467.8,1725.3L466.8,1722.5L465.8,1719.6L464.8,1716.8L463.8,1714.0L462.8,1711.1L461.8,1708.3L460.9,1705.5L459.9,1702.6L458.9,1699.8L458.0,1696.9L457.0,1694.1L456.0,1691.3L455.1,1688.4L454.1,1685.6L453.2,1682.7L452.2,1679.9L451.3,1677.0L450.4,1674.2L449.5,1671.3L448.5,1668.5L447.6,1665.6L446.7,1662.7L445.8,1659.9L444.9,1657.0L444.0,1654.2L443.1,1651.3L442.2,1648.4L441.3,1645.6L440.4,1642.7L439.6,1639.8L438.7,1637.0L437.8,1634.1L437.0,1631.2L436.1,1628.4L435.2,1625.5L434.4,1622.6L433.5,1619.7L432.7,1616.9L431.9,1614.0L431.0,1611.1L430.2,1608.2L429.4,1605.3L428.5,1602.5L427.7,1599.6L426.9,1596.7L426.1,1593.8L425.3,1590.9L424.5,1588.0L423.7,1585.2L422.9,1582.3L422.1,1579.4L421.3,1576.5L420.5,1573.6L419.8,1570.7L419.0,1567.8L418.2,1564.9L417.4,1562.0L416.7,1559.1L415.9,1556.2L415.2,1553.3L414.4,1550.4L413.7,1547.5L412.9,1544.6L412.2,1541.7L411.4,1538.8L410.7,1535.9L410.0,1533.0L409.3,1530.1L408.5,1527.2L407.8,1524.3L407.1,1521.3L406.4,1518.4L405.7,1515.5L405.0,1512.6L404.3,1509.7L403.6,1506.8L402.9,1503.9L402.2,1500.9L401.5,1498.0L400.8,1495.1L400.2,1492.2L399.5,1489.3L398.8,1486.3L398.2,1483.4L397.5,1480.5L396.8,1477.6L396.2,1474.7L395.5,1471.7L394.9,1468.8L394.2,1465.9L393.6,1462.9L392.9,1460.0L392.3,1457.1L391.7,1454.2L391.0,1451.2L390.4,1448.3L389.8,1445.4L389.2,1442.4L388.6,1439.5L387.9,1436.6L387.3,1433.6L386.7,1430.7L386.1,1427.7L385.5,1424.8L384.9,1421.9L384.3,1418.9L383.7,1416.0L383.2,1413.0L382.6,1410.1L382.0,1407.2L381.4,1404.2L380.8,1401.3L380.3,1398.3L379.7,1395.4L379.1,1392.4L378.6,1389.5L378.0,1386.5L377.5,1383.6L376.9,1380.6L376.4,1377.7L375.8,1374.7L375.3,1371.8L374.7,1368.8L374.2,1365.9L373.7,1362.9L373.1,1360.0L372.6,1357.0L372.1,1354.1L371.5,1351.1L371.0,1348.1L370.5,1345.2L370.0,1342.2L369.5,1339.3L369.0,1336.3L368.5,1333.4L368.0,1330.4L367.5,1327.4L367.0,1324.5L366.5,1321.5L366.0,1318.5L365.5,1315.6L365.0,1312.6L364.5,1309.7L364.0,1306.7L363.5,1303.7L363.1,1300.8L362.6,1297.8L362.1,1294.8L361.7,1291.9L361.2,1288.9L360.7,1285.9L360.3,1283.0L359.8,1280.0L359.4,1277.0L358.9,1274.1L358.4,1271.1L358.0,1268.1L357.6,1265.1L357.1,1262.2L356.7,1259.2L356.2,1256.2L355.8,1253.3L355.4,1250.3L354.9,1247.3L354.5,1244.3L354.1,1241.4L353.6,1238.4L353.2,1235.4L352.8,1232.4L352.4,1229.5L352.0,1226.5L351.6,1223.5L351.1,1220.5L350.7,1217.5L350.3,1214.6L349.9,1211.6L349.5,1208.6L349.1,1205.6L348.7,1202.7L348.3,1199.7L347.9,1196.7L347.5,1193.7L347.2,1190.7L346.8,1187.8L346.4,1184.8L346.0,1181.8L345.6,1178.8L345.2,1175.8L344.9,1172.8L344.5,1169.9L344.1,1166.9L343.8,1163.9L343.4,1160.9L343.0,1157.9L342.7,1154.9L342.3,1152.0L341.9,1149.0L341.6,1146.0L341.2,1143.0L340.9,1140.0L340.5,1137.0L340.2,1134.1L339.8,1131.1L339.5,1128.1L339.1,1125.1L338.8,1122.1L338.5,1119.1L338.1,1116.1L337.8,1113.1L337.5,1110.2L337.1,1107.2L336.8,1104.2L336.5,1101.2L336.2,1098.2L335.8,1095.2L335.5,1092.2L335.2,1089.2L334.9,1086.3L334.6,1083.3L334.3,1080.3L334.0,1077.3L333.7,1074.3L333.3,1071.3L333.0,1068.3L332.8,1065.3L332.5,1062.3L332.2,1059.3L331.9,1056.4L331.6,1053.4L331.3,1050.4L331.0,1047.4L330.7,1044.4L330.4,1041.4L330.2,1038.4L329.9,1035.4L329.6,1032.4L329.3,1029.4L329.1,1026.4L328.8,1023.4L328.5,1020.5L328.3,1017.5L328.0,1014.5L327.8,1011.5L327.5,1008.5L327.3,1005.5L327.0,1002.5L326.8,999.5L326.5,996.5L326.3,993.5L326.0,990.5L325.8,987.5L325.6,984.5L325.3,981.5L325.1,978.6L324.9,975.6L324.6,972.6L324.4,969.6L324.2,966.6L324.0,963.6L323.7,960.6L323.5,957.6L323.3,954.6L323.1,951.6L322.9,948.6L322.7,945.6L322.5,942.6L322.3,939.6L322.1,936.6L321.9,933.6L321.7,930.6L321.5,927.7L321.3,924.7L321.1,921.7L320.9,918.7L320.8,915.7L320.6,912.7L320.4,909.7L320.2,906.7L320.1,903.7L319.9,900.7L319.7,897.7L319.6,894.7L319.4,891.7L319.2,888.7L319.1,885.7L318.9,882.7L318.8,879.7L318.6,876.7L318.5,873.7L318.3,870.8L318.2,867.8L318.0,864.8L317.9,861.8L317.8,858.8L317.6,855.8L317.5,852.8L317.4,849.8L317.3,846.8L317.1,843.8L317.0,840.8L316.9,837.8L316.8,834.8L316.7,831.8L316.6,828.8L316.4,825.8L316.3,822.9L316.2,819.9L316.1,816.9L316.0,813.9L315.9,810.9L315.9,807.9L315.8,804.9L315.7,801.9L315.6,798.9L315.5,795.9L315.4,792.9L315.3,789.9L315.3,786.9L315.2,783.9L315.1,781.0L315.1,778.0L315.0,775.0L314.9,772.0L314.9,769.0L314.8,766.0L314.8,763.0L314.7,760.0L314.7,757.0L314.6,754.0L314.6,751.0L314.5,748.0L314.5,745.1L314.5,742.1L314.4,739.1L314.4,736.1L314.4,733.1L314.3,730.1L314.3,727.1L314.3,724.1L314.3,721.1L314.3,718.2L314.3,715.2L314.2,712.2L314.2,709.2L314.2,706.2L314.2,703.2L314.2,700.2L314.2,697.2L314.2,694.3L314.3,691.3L314.3,688.3L314.3,685.3L314.3,682.3L314.3,679.3L314.3,676.3L314.4,673.3L314.4,670.4L314.4,667.4L314.5,664.4L314.5,661.4L314.6,658.4L314.6,655.4L314.7,652.4L314.7,649.5L314.8,646.5L314.9,643.5L314.9,640.5L315.0,637.5L315.1,634.5L315.2,631.5L315.3,628.6L315.4,625.6L315.5,622.6L315.6,619.6L315.7,616.6L315.8,613.6L315.9,610.6L316.0,607.7L316.2,604.7L316.3,601.7L316.4,598.7L316.6,595.7L316.8,592.7L316.9,589.7L317.1,586.7L317.3,583.8L317.4,580.8L317.6,577.8L317.8,574.8L318.0,571.8L318.2,568.8L318.5,565.8L318.7,562.8L318.9,559.8L319.1,556.8L319.4,553.8L319.6,550.8L319.9,547.9L320.2,544.9L320.4,541.9L320.7,538.9L321.0,535.9L321.3,532.9L321.6,529.9L321.9,526.9L322.3,523.9L322.6,520.9L322.9,517.9L323.3,514.9L323.7,511.9L324.0,508.9L324.4,505.9L324.8,502.9L325.2,499.9L325.6,496.9L326.0,493.9L326.4,490.8L326.9,487.8L327.3,484.8L327.8,481.8L328.2,478.8L328.7,475.8L329.2,472.8L329.7,469.8L330.2,466.8L330.7,463.7L331.2,460.7L331.8,457.7L332.3,454.7L332.9,451.7L333.4,448.7L334.0,445.6L334.6,442.6L335.2,439.6L335.8,436.6L336.5,433.6L337.1,430.6L337.8,427.5L338.5,424.5L339.2,421.5L339.9,418.5L340.6,415.6L341.3,412.6L342.1,409.6L342.9,406.6L343.7,403.7L344.5,400.7L345.4,397.8L346.2,394.9L347.1,392.0L348.0,389.1L349.0,386.2L349.9,383.3L350.9,380.5L351.9,377.6L353.0,374.8L354.0,372.0L355.1,369.2L356.3,366.4L357.4,363.7L358.6,361.0L359.8,358.2L361.0,355.6L362.3,352.9L363.6,350.3L364.9,347.6L366.3,345.0L367.7,342.5L369.1,339.9L370.6,337.4L372.1,334.9L373.6,332.5L375.2,330.1L376.8,327.7L378.5,325.3L380.1,322.9L381.9,320.6L383.6,318.4L385.4,316.1L387.3,313.9L389.2,311.7L391.1,309.6L393.1,307.5L395.1,305.4L397.2,303.4L399.3,301.4L401.4,299.5L403.6,297.6L405.9,295.7L408.2,293.9L410.5,292.1L412.9,290.3L415.3,288.6L417.7,287.0L420.2,285.4L422.8,283.8L425.4,282.3L428.0,280.8L430.6,279.4L433.3,278.0L436.0,276.7L438.7,275.4L441.5,274.2L444.2,273.0L447.0,271.9L449.9,270.8L452.7,269.8L455.6,268.9L458.5,268.0L461.4,267.1L464.3,266.3L467.2,265.6L470.2,264.9L473.2,264.3L476.1,263.7L479.1,263.3L482.1,262.8L485.1,262.5L488.1,262.2L491.1,261.9L494.1,261.7L497.1,261.6L500.1,261.6L503.1,261.6L506.1,261.7L509.0,261.8L512.0,262.0L515.0,262.3L518.0,262.7L520.9,263.0L523.9,263.5L526.9,264.0L529.8,264.5L532.7,265.1L535.7,265.8L538.6,266.5L541.5,267.2L544.5,268.0L547.4,268.8L550.3,269.7L553.2,270.5L556.0,271.5L558.9,272.4L561.8,273.4L564.7,274.4L567.5,275.5L570.4,276.5L573.2,277.6L576.0,278.7L578.9,279.8L581.7,281.0L584.5,282.2L587.2,283.3L590.0,284.5L592.8,285.7L595.6,286.9L598.3,288.2L601.1,289.4L603.8,290.7L606.5,292.0L609.2,293.3L612.0,294.6L614.7,295.9L617.4,297.2L620.0,298.6L622.7,300.0L625.4,301.3L628.0,302.7L630.7,304.1L633.3,305.5L636.0,307.0L638.6,308.4L641.2,309.9L643.9,311.3L646.5,312.8L649.1,314.3L651.7,315.8L654.3,317.3L656.8,318.8L659.4,320.4L662.0,321.9L664.5,323.4L667.1,325.0L669.6,326.6L672.2,328.2L674.7,329.8L677.3,331.4L679.8,333.0L682.3,334.6L684.8,336.2L687.3,337.9L689.8,339.5L692.3,341.2L694.8,342.8L697.3,344.5L699.8,346.2L702.3,347.9L704.8,349.6L707.2,351.3L709.7,353.0L712.2,354.7L714.6,356.4L717.1,358.1L719.5,359.9L722.0,361.6L724.4,363.4L726.8,365.1L729.3,366.9L731.7,368.6L734.1,370.4L736.5,372.2L739.0,374.0L741.4,375.7L743.8,377.5L746.2,379.3L748.6,381.1L751.0,382.9L753.4,384.7L755.8,386.5L758.2,388.3L760.6,390.1L763.0,392.0L765.4,393.8L767.8,395.6L770.1,397.4L772.5,399.3L774.9,401.1L777.3,402.9L779.7,404.7L782.0,406.6L784.4,408.4L786.8,410.3L789.2,412.1L791.5,413.9L793.9,415.8L796.3,417.6L798.6,419.5L801.0,421.3L803.4,423.2L805.7,425.0L808.1,426.9L810.4,428.8L812.8,430.6L815.1,432.5L817.5,434.4L819.8,436.2L822.2,438.1L824.5,440.0L826.9,441.8L829.2,443.7L831.6,445.6L833.9,447.5L836.2,449.3L838.6,451.2L840.9,453.1L843.2,455.0L845.6,456.9L847.9,458.8L850.2,460.7L852.6,462.6L854.9,464.5L857.2,466.4L859.5,468.2L861.9,470.2L864.2,472.1L866.5,474.0L868.8,475.9L871.1,477.8L873.4,479.7L875.8,481.6L878.1,483.5L880.4,485.4L882.7,487.3L885.0,489.2L887.3,491.2L889.6,493.1L891.9,495.0L894.2,496.9L896.5,498.9L898.8,500.8L901.1,502.7L903.4,504.6L905.7,506.6L908.0,508.5L910.3,510.4L912.6,512.4L914.9,514.3L917.2,516.2L919.4,518.2L921.7,520.1L924.0,522.1L926.3,524.0L928.6,526.0L930.9,527.9L933.1,529.9L935.4,531.8L937.7,533.8L940.0,535.7L942.3,537.7L944.5,539.6L946.8,541.6L949.1,543.5L951.3,545.5L953.6,547.5L955.9,549.4L958.2,551.4L960.4,553.3L962.7,555.3L965.0,557.3L967.2,559.3L969.5,561.2L971.7,563.2L974.0,565.2L976.3,567.1L978.5,569.1L980.8,571.1L983.0,573.1L985.3,575.0L987.5,577.0L989.8,579.0L992.1,581.0L994.3,583.0L996.6,584.9L998.8,586.9L1001.1,588.9L1003.3,590.9L1005.6,592.9L1007.8,594.9L1010.0,596.9L1012.3,598.9L1014.5,600.9L1016.8,602.8L1019.0,604.8L1021.3,606.8L1023.5,608.8L1025.7,610.8L1028.0,612.8L1030.2,614.8L1032.5,616.8L1034.7,618.8L1036.9,620.8L1039.2,622.8L1041.4,624.8L1043.6,626.8L1045.9,628.8L1048.1,630.8L1050.3,632.8L1052.6,634.9L1054.8,636.9L1057.0,638.9L1059.2,640.9L1061.5,642.9L1063.7,644.9L1065.9,646.9L1068.2,648.9L1070.4,650.9L1072.6,653.0L1074.8,655.0L1077.0,657.0L1079.3,659.0L1081.5,661.0L1083.7,663.0L1085.9,665.1L1088.2,667.1L1090.4,669.1L1092.6,671.1L1094.8,673.1L1097.0,675.2L1099.3,677.2L1101.5,679.2L1103.7,681.2L1105.9,683.2L1108.1,685.3L1110.3,687.3L1112.5,689.3L1114.8,691.3L1117.0,693.4L1119.2,695.4L1121.4,697.4L1123.6,699.5L1125.8,701.5L1128.0,703.5L1130.2,705.5L1132.5,707.6L1134.7,709.6L1136.9,711.6L1139.1,713.7L1141.3,715.7L1143.5,717.7L1145.7,719.8L1147.9,721.8L1150.1,723.8L1152.3,725.9L1154.6,727.9L1156.8,729.9L1159.0,732.0L1161.2,734.0L1163.4,736.0L1165.6,738.1L1167.8,740.1L1170.0,742.1L1172.2,744.2L1174.4,746.2L1176.6,748.2L1178.8,750.3L1181.0,752.3L1183.2,754.3L1185.4,756.4L1187.6,758.4L1189.8,760.5L1192.0,762.5L1194.2,764.5L1196.4,766.6L1198.6,768.6L1200.8,770.7L1203.0,772.7L1205.2,774.7L1207.4,776.8L1209.6,778.8L1211.8,780.9L1214.0,782.9L1216.2,785.0L1218.4,787.0L1220.6,789.0L1222.8,791.1L1225.0,793.1L1227.2,795.2L1229.4,797.2L1231.6,799.3L1233.8,801.3L1236.0,803.4L1238.2,805.4L1240.4,807.5L1242.6,809.5L1244.8,811.6L1246.9,813.6L1249.1,815.7L1251.3,817.7L1253.5,819.8L1255.7,821.8L1257.9,823.9L1260.1,825.9L1262.3,828.0L1264.5,830.0L1266.7,832.1L1268.8,834.1L1271.0,836.2L1273.2,838.3L1275.4,840.3L1277.6,842.4L1279.8,844.4L1282.0,846.5L1284.1,848.5L1286.3,850.6L1288.5,852.7L1290.7,854.7L1292.9,856.8L1295.0,858.8L1297.2,860.9L1299.4,863.0L1301.6,865.0L1303.8,867.1L1305.9,869.1L1308.1,871.2L1310.3,873.3L1312.5,875.3L1314.7,877.4L1316.8,879.5L1319.0,881.5L1321.2,883.6L1323.4,885.7L1325.5,887.7L1327.7,889.8L1329.9,891.9L1332.0,893.9L1334.2,896.0L1336.4,898.1L1338.6,900.2L1340.7,902.2L1342.9,904.3L1345.1,906.4L1347.2,908.5L1349.4,910.5L1351.6,912.6L1353.7,914.7L1355.9,916.8L1358.1,918.8L1360.2,920.9L1362.4,923.0L1364.5,925.1L1366.7,927.1L1368.9,929.2L1371.0,931.3L1373.2,933.4L1375.3,935.5L1377.5,937.6L1379.7,939.6L1381.8,941.7L1384.0,943.8L1386.1,945.9L1388.3,948.0L1390.4,950.1L1392.6,952.2L1394.8,954.2L1396.9,956.3L1399.1,958.4L1401.2,960.5L1403.4,962.6L1405.5,964.7L1407.7,966.8L1409.8,968.9L1412.0,971.0L1414.1,973.1L1416.2,975.2L1418.4,977.3L1420.5,979.4L1422.7,981.5L1424.8,983.6L1427.0,985.6L1429.1,987.7L1431.3,989.8L1433.4,991.9L1435.5,994.1L1437.7,996.2L1439.8,998.3L1442.0,1000.4L1444.1,1002.5L1446.2,1004.6L1448.4,1006.7L1450.5,1008.8L1452.6,1010.9L1454.8,1013.0L1456.9,1015.1L1459.0,1017.2L1461.2,1019.3L1463.3,1021.4L1465.4,1023.5L1467.5,1025.7L1469.7,1027.8L1471.8,1029.9L1473.9,1032.0L1476.0,1034.1L1478.2,1036.2L1480.3,1038.4L1482.4,1040.5L1484.5,1042.6L1486.7,1044.7L1488.8,1046.8L1490.9,1049.0L1493.0,1051.1L1495.1,1053.2L1497.3,1055.3L1499.4,1057.4L1501.5,1059.6L1503.6,1061.7L1505.7,1063.8L1507.8,1066.0L1509.9,1068.1L1512.1,1070.2L1514.2,1072.3L1516.3,1074.5L1518.4,1076.6L1520.5,1078.7L1522.6,1080.9L1524.7,1083.0L1526.8,1085.1L1528.9,1087.3L1531.0,1089.4L1533.1,1091.6L1535.2,1093.7L1537.3,1095.8L1539.4,1098.0L1541.5,1100.1L1543.6,1102.3L1545.7,1104.4L1547.8,1106.5L1549.9,1108.7L1552.0,1110.8L1554.1,1113.0L1556.2,1115.1L1558.3,1117.3L1560.4,1119.4L1562.5,1121.6L1564.6,1123.7L1566.6,1125.9L1568.7,1128.0L1570.8,1130.2L1572.9,1132.3L1575.0,1134.5L1577.1,1136.6L1579.2,1138.8L1581.3,1140.9L1583.4,1143.1L1585.4,1145.2L1587.5,1147.4L1589.6,1149.6L1591.7,1151.7L1593.8,1153.9L1595.9,1156.0L1597.9,1158.2L1600.0,1160.3L1602.1,1162.5L1604.2,1164.7L1606.3,1166.8L1608.3,1169.0L1610.4,1171.1L1612.5,1173.3L1614.6,1175.5L1616.7,1177.6L1618.7,1179.8L1620.8,1181.9L1622.9,1184.1L1625.0,1186.3L1627.1,1188.4L1629.1,1190.6L1631.2,1192.7L1633.3,1194.9L1635.4,1197.1L1637.5,1199.2L1639.5,1201.4L1641.6,1203.6L1643.7,1205.7L1645.8,1207.9L1647.8,1210.0L1649.9,1212.2L1652.0,1214.4L1654.1,1216.5L1656.1,1218.7L1658.2,1220.9L1660.3,1223.0L1662.4,1225.2L1664.5,1227.3L1666.5,1229.5L1668.6,1231.7L1670.7,1233.8L1672.8,1236.0L1674.8,1238.2L1676.9,1240.3L1679.0,1242.5L1681.1,1244.6L1683.2,1246.8L1685.2,1249.0L1687.3,1251.1L1689.4,1253.3L1691.5,1255.4L1693.6,1257.6L1695.6,1259.8L1697.7,1261.9L1699.8,1264.1L1701.9,1266.2L1704.0,1268.4L1706.1,1270.6L1708.1,1272.7L1710.2,1274.9L1712.3,1277.0L1714.4,1279.2L1716.5,1281.3L1718.6,1283.5L1720.6,1285.7L1722.7,1287.8L1724.8,1290.0L1726.9,1292.1L1729.0,1294.3L1731.1,1296.4L1733.2,1298.6L1735.3,1300.7L1737.3,1302.9L1739.4,1305.0L1741.5,1307.2L1743.6,1309.3L1745.7,1311.5L1747.8,1313.6L1749.9,1315.8L1752.0,1317.9L1754.1,1320.1L1756.2,1322.2L1758.3,1324.4L1760.4,1326.5L1762.5,1328.6L1764.6,1330.8L1766.7,1332.9L1768.8,1335.1L1770.9,1337.2L1773.0,1339.4L1775.1,1341.5L1777.2,1343.6L1779.2,1345.8L1781.3,1347.9L1783.4,1350.1L1785.5,1352.2L1787.6,1354.4L1789.7,1356.5L1791.8,1358.7L1793.9,1360.8L1796.0,1362.9L1798.1,1365.1L1800.2,1367.2L1802.3,1369.4L1804.4,1371.5L1806.5,1373.7L1808.6,1375.8L1810.6,1378.0L1812.7,1380.1L1814.8,1382.3L1816.9,1384.4L1819.0,1386.6L1821.1,1388.7L1823.1,1390.9L1825.2,1393.0L1827.3,1395.2L1829.4,1397.4L1831.5,1399.5L1833.5,1401.7L1835.6,1403.8L1837.7,1406.0L1839.7,1408.2L1841.8,1410.3L1843.9,1412.5L1845.9,1414.7L1848.0,1416.8L1850.1,1419.0L1852.1,1421.2L1854.2,1423.3L1856.2,1425.5L1858.3,1427.7L1860.3,1429.9L1862.4,1432.1L1864.4,1434.2L1866.5,1436.4L1868.5,1438.6L1870.5,1440.8L1872.6,1443.0L1874.6,1445.2L1876.6,1447.4L1878.7,1449.6L1880.7,1451.8L1882.7,1454.0L1884.7,1456.2L1886.8,1458.4L1888.8,1460.6L1890.8,1462.8L1892.8,1465.0L1894.8,1467.2L1896.8,1469.4L1898.8,1471.6L1900.8,1473.9L1902.8,1476.1L1904.8,1478.3L1906.7,1480.5L1908.7,1482.8L1910.7,1485.0 L661.0,2071.5 Z" fill="none" stroke="#000" stroke-width="6.2" stroke-linejoin="round"/>
<path d="M737.4,576.7L740.2,577.7L743.1,578.8L745.9,579.9L748.7,581.0L751.5,582.0L754.3,583.1L757.2,584.2L760.0,585.3L762.8,586.4L765.6,587.5L768.4,588.6L771.2,589.8L774.0,590.9L776.8,592.0L779.5,593.2L782.3,594.3L785.1,595.5L787.9,596.6L790.7,597.8L793.4,598.9L796.2,600.1L799.0,601.3L801.7,602.5L804.5,603.7L807.3,604.9L810.0,606.1L812.8,607.3L815.5,608.5L818.3,609.7L821.0,610.9L823.7,612.2L826.5,613.4L829.2,614.6L832.0,615.9L834.7,617.1L837.4,618.4L840.1,619.6L842.9,620.9L845.6,622.2L848.3,623.4L851.0,624.7L853.7,626.0L856.4,627.3L859.1,628.6L861.8,629.9L864.5,631.2L867.2,632.5L869.9,633.8L872.6,635.2L875.3,636.5L878.0,637.8L880.6,639.2L883.3,640.5L886.0,641.9L888.7,643.2L891.3,644.6L894.0,645.9L896.7,647.3L899.3,648.7L902.0,650.1L904.6,651.4L907.3,652.8L909.9,654.2L912.6,655.6L915.2,657.0L917.9,658.4L920.5,659.8L923.2,661.3L925.8,662.7L928.4,664.1L931.1,665.5L933.7,667.0L936.3,668.4L938.9,669.9L941.5,671.3L944.2,672.8L946.8,674.2L949.4,675.7L952.0,677.2L954.6,678.6L957.2,680.1L959.8,681.6L962.4,683.1L965.0,684.6L967.6,686.1L970.2,687.6L972.8,689.1L975.3,690.6L977.9,692.1L980.5,693.6L983.1,695.1L985.7,696.7L988.2,698.2L990.8,699.7L993.4,701.3L995.9,702.8L998.5,704.3L1001.1,705.9L1003.6,707.5L1006.2,709.0L1008.7,710.6L1011.3,712.2L1013.8,713.7L1016.4,715.3L1018.9,716.9L1021.4,718.5L1024.0,720.1L1026.5,721.7L1029.0,723.3L1031.6,724.9L1034.1,726.5L1036.6,728.1L1039.1,729.7L1041.7,731.3L1044.2,732.9L1046.7,734.5L1049.2,736.2L1051.7,737.8L1054.2,739.4L1056.7,741.1L1059.2,742.7L1061.7,744.4L1064.2,746.0L1066.7,747.7L1069.2,749.4L1071.7,751.0L1074.2,752.7L1076.7,754.4L1079.2,756.0L1081.7,757.7L1084.1,759.4L1086.6,761.1L1089.1,762.8L1091.6,764.5L1094.0,766.2L1096.5,767.9L1099.0,769.6L1101.4,771.3L1103.9,773.0L1106.3,774.7L1108.8,776.4L1111.3,778.1L1113.7,779.9L1116.2,781.6L1118.6,783.3L1121.0,785.1L1123.5,786.8L1125.9,788.5L1128.4,790.3L1130.8,792.0L1133.2,793.8L1135.7,795.5L1138.1,797.3L1140.5,799.1L1143.0,800.8L1145.4,802.6L1147.8,804.4L1150.2,806.1L1152.6,807.9L1155.1,809.7L1157.5,811.5L1159.9,813.3L1162.3,815.1L1164.7,816.9L1167.1,818.7L1169.5,820.5L1171.9,822.3L1174.3,824.1L1176.7,825.9L1179.1,827.7L1181.5,829.5L1183.9,831.3L1186.3,833.1L1188.6,835.0L1191.0,836.8L1193.4,838.6L1195.8,840.4L1198.2,842.3L1200.5,844.1L1202.9,846.0L1205.3,847.8L1207.7,849.7L1210.0,851.5L1212.4,853.4L1214.8,855.2L1217.1,857.1L1219.5,858.9L1221.8,860.8L1224.2,862.7L1226.5,864.5L1228.9,866.4L1231.2,868.3L1233.6,870.1L1235.9,872.0L1238.3,873.9L1240.6,875.8L1243.0,877.7L1245.3,879.6L1247.6,881.4L1250.0,883.3L1252.3,885.2L1254.6,887.1L1257.0,889.0L1259.3,890.9L1261.6,892.8L1263.9,894.7L1266.3,896.6L1268.6,898.6L1270.9,900.5L1273.2,902.4L1275.5,904.3L1277.8,906.2L1280.1,908.2L1282.5,910.1L1284.8,912.0L1287.1,913.9L1289.4,915.9L1291.7,917.8L1294.0,919.7L1296.3,921.7L1298.6,923.6L1300.9,925.6L1303.1,927.5L1305.4,929.4L1307.7,931.4L1310.0,933.3L1312.3,935.3L1314.6,937.3L1316.9,939.2L1319.1,941.2L1321.4,943.1L1323.7,945.1L1326.0,947.1L1328.2,949.0L1330.5,951.0L1332.8,953.0L1335.1,954.9L1337.3,956.9L1339.6,958.9L1341.9,960.9L1344.1,962.8L1346.4,964.8L1348.6,966.8L1350.9,968.8L1353.1,970.8L1355.4,972.8L1357.6,974.8L1359.9,976.8L1362.1,978.8L1364.4,980.8L1366.6,982.8L1368.9,984.8L1371.1,986.8L1373.4,988.8L1375.6,990.8L1377.8,992.8L1380.1,994.8L1382.3,996.8L1384.5,998.8L1386.8,1000.8L1389.0,1002.9L1391.2,1004.9L1393.4,1006.9L1395.7,1008.9L1397.9,1010.9L1400.1,1013.0L1402.3,1015.0L1404.6,1017.0L1406.8,1019.1L1409.0,1021.1L1411.2,1023.1L1413.4,1025.2L1415.6,1027.2L1417.8,1029.2L1420.0,1031.3L1422.2,1033.3L1424.4,1035.4L1426.6,1037.4L1428.9,1039.5L1431.1,1041.5L1433.2,1043.6L1435.4,1045.6L1437.6,1047.7L1439.8,1049.7L1442.0,1051.8L1444.2,1053.9L1446.4,1055.9L1448.6,1058.0L1450.8,1060.0L1453.0,1062.1L1455.2,1064.2L1457.3,1066.2L1459.5,1068.3L1461.7,1070.4L1463.9,1072.5L1466.1,1074.5L1468.2,1076.6L1470.4,1078.7L1472.6,1080.8L1474.7,1082.9L1476.9,1084.9L1479.1,1087.0L1481.3,1089.1L1483.4,1091.2L1485.6,1093.3L1487.7,1095.4L1489.9,1097.5L1492.1,1099.5L1494.2,1101.6L1496.4,1103.7L1498.5,1105.8L1500.7,1107.9L1502.9,1110.0L1505.0,1112.1L1507.2,1114.2L1509.3,1116.3L1511.5,1118.4L1513.6,1120.5L1515.7,1122.6L1517.9,1124.8L1520.0,1126.9L1522.2,1129.0L1524.3,1131.1L1526.5,1133.2L1528.6,1135.3L1530.7,1137.4L1532.9,1139.5L1535.0,1141.7L1537.1,1143.8L1539.3,1145.9L1541.4,1148.0L1543.5,1150.1L1545.7,1152.3L1547.8,1154.4L1549.9,1156.5L1552.0,1158.6L1554.2,1160.8L1556.3,1162.9L1558.4,1165.0L1560.5,1167.2L1562.7,1169.3L1564.8,1171.4L1566.9,1173.6L1569.0,1175.7L1571.1,1177.8L1573.2,1180.0L1575.3,1182.1L1577.5,1184.2L1579.6,1186.4L1581.7,1188.5L1583.8,1190.7L1585.9,1192.8L1588.0,1195.0L1590.1,1197.1L1592.2,1199.2L1594.3,1201.4L1596.4,1203.5L1598.5,1205.7L1600.6,1207.8L1602.7,1210.0L1604.8,1212.1L1606.9,1214.3L1609.0,1216.4L1611.1,1218.6L1613.2,1220.8L1615.3,1222.9L1617.4,1225.1L1619.5,1227.2L1621.5,1229.4L1623.6,1231.6L1625.7,1233.7L1627.8,1235.9L1629.9,1238.0L1632.0,1240.2L1634.1,1242.4L1636.1,1244.5L1638.2,1246.7L1640.3,1248.9L1642.4,1251.0L1644.5,1253.2L1646.5,1255.4L1648.6,1257.5L1650.7,1259.7L1652.8,1261.9L1654.8,1264.0L1656.9,1266.2L1659.0,1268.4L1661.0,1270.6L1663.1,1272.7L1665.2,1274.9L1667.2,1277.1L1669.3,1279.3L1671.4,1281.4L1673.4,1283.6L1675.5,1285.8L1677.6,1288.0L1679.6,1290.2L1681.7,1292.3L1683.8,1294.5L1685.8,1296.7L1687.9,1298.9L1689.9,1301.1L1692.0,1303.2L1694.0,1305.4L1696.1,1307.6L1698.2,1309.8L1700.2,1312.0L1702.3,1314.2L1704.3,1316.3L1706.4,1318.5L1708.4,1320.7L1710.5,1322.9L1712.5,1325.1L1714.6,1327.3L1716.6,1329.5L1718.7,1331.7L1720.7,1333.9L1722.7,1336.0L1724.8,1338.2L1726.8,1340.4L1728.9,1342.6L1730.9,1344.8L1733.0,1347.0L1735.0,1349.2L1737.0,1351.4L1739.1,1353.6L1741.1,1355.8L1743.1,1358.0L1745.2,1360.2L1747.2,1362.3L1749.3,1364.5L1751.3,1366.7L1753.3,1368.9L1755.4,1371.1L1757.4,1373.3L1759.4,1375.5L1761.5,1377.7L1763.5,1379.9L1765.5,1382.1L1767.5,1384.3L1769.6,1386.5L1771.6,1388.7L1773.6,1390.9L1775.7,1393.1L1777.7,1395.3L1779.7,1397.5 L708.0,2023.2L707.5,2020.2L706.9,2017.3L706.4,2014.3L705.9,2011.4L705.3,2008.4L704.8,2005.5L704.3,2002.5L703.8,1999.6L703.3,1996.6L702.8,1993.7L702.3,1990.7L701.8,1987.7L701.2,1984.8L700.7,1981.8L700.2,1978.9L699.7,1975.9L699.3,1972.9L698.8,1970.0L698.3,1967.0L697.8,1964.1L697.3,1961.1L696.8,1958.1L696.3,1955.2L695.9,1952.2L695.4,1949.2L694.9,1946.3L694.4,1943.3L694.0,1940.4L693.5,1937.4L693.0,1934.4L692.6,1931.5L692.1,1928.5L691.7,1925.5L691.2,1922.6L690.7,1919.6L690.3,1916.6L689.9,1913.7L689.4,1910.7L689.0,1907.7L688.5,1904.7L688.1,1901.8L687.7,1898.8L687.2,1895.8L686.8,1892.9L686.4,1889.9L685.9,1886.9L685.5,1884.0L685.1,1881.0L684.7,1878.0L684.3,1875.0L683.8,1872.1L683.4,1869.1L683.0,1866.1L682.6,1863.1L682.2,1860.2L681.8,1857.2L681.4,1854.2L681.0,1851.2L680.6,1848.3L680.2,1845.3L679.8,1842.3L679.5,1839.3L679.1,1836.3L678.7,1833.4L678.3,1830.4L677.9,1827.4L677.6,1824.4L677.2,1821.5L676.8,1818.5L676.5,1815.5L676.1,1812.5L675.7,1809.5L675.4,1806.6L675.0,1803.6L674.7,1800.6L674.3,1797.6L674.0,1794.6L673.6,1791.6L673.3,1788.7L672.9,1785.7L672.6,1782.7L672.2,1779.7L671.9,1776.7L671.6,1773.7L671.2,1770.8L670.9,1767.8L670.6,1764.8L670.3,1761.8L669.9,1758.8L669.6,1755.8L669.3,1752.8L669.0,1749.9L668.7,1746.9L668.4,1743.9L668.1,1740.9L667.8,1737.9L667.5,1734.9L667.2,1731.9L666.9,1728.9L666.6,1725.9L666.3,1723.0L666.0,1720.0L665.7,1717.0L665.4,1714.0L665.1,1711.0L664.8,1708.0L664.6,1705.0L664.3,1702.0L664.0,1699.0L663.7,1696.0L663.5,1693.1L663.2,1690.1L663.0,1687.1L662.7,1684.1L662.4,1681.1L662.2,1678.1L661.9,1675.1L661.7,1672.1L661.4,1669.1L661.2,1666.1L660.9,1663.1L660.7,1660.1L660.5,1657.1L660.2,1654.1L660.0,1651.1L659.8,1648.2L659.5,1645.2L659.3,1642.2L659.1,1639.2L658.9,1636.2L658.6,1633.2L658.4,1630.2L658.2,1627.2L658.0,1624.2L657.8,1621.2L657.6,1618.2L657.4,1615.2L657.2,1612.2L657.0,1609.2L656.8,1606.2L656.6,1603.2L656.4,1600.2L656.2,1597.2L656.0,1594.2L655.8,1591.2L655.6,1588.2L655.5,1585.2L655.3,1582.2L655.1,1579.2L654.9,1576.2L654.8,1573.2L654.6,1570.2L654.4,1567.2L654.3,1564.2L654.1,1561.2L654.0,1558.2L653.8,1555.2L653.6,1552.2L653.5,1549.2L653.3,1546.2L653.2,1543.2L653.1,1540.2L652.9,1537.2L652.8,1534.2L652.6,1531.2L652.5,1528.2L652.4,1525.2L652.2,1522.2L652.1,1519.2L652.0,1516.2L651.9,1513.2L651.8,1510.2L651.6,1507.2L651.5,1504.2L651.4,1501.2L651.3,1498.2L651.2,1495.2L651.1,1492.2L651.0,1489.2L650.9,1486.2L650.8,1483.2L650.7,1480.2L650.6,1477.2L650.5,1474.2L650.4,1471.2L650.4,1468.2L650.3,1465.2L650.2,1462.2L650.1,1459.2L650.0,1456.1L650.0,1453.1L649.9,1450.1L649.8,1447.1L649.8,1444.1L649.7,1441.1L649.6,1438.1L649.6,1435.1L649.5,1432.1L649.5,1429.1L649.4,1426.1L649.4,1423.1L649.3,1420.1L649.3,1417.1L649.3,1414.1L649.2,1411.1L649.2,1408.1L649.2,1405.1L649.1,1402.1L649.1,1399.1L649.1,1396.1L649.1,1393.1L649.0,1390.1L649.0,1387.1L649.0,1384.1L649.0,1381.0L649.0,1378.0L649.0,1375.0L649.0,1372.0L649.0,1369.0L649.0,1366.0L649.0,1363.0L649.0,1360.0L649.0,1357.0L649.0,1354.0L649.0,1351.0L649.0,1348.0L649.0,1345.0L649.0,1342.0L649.1,1339.0L649.1,1336.0L649.1,1333.0L649.2,1330.0L649.2,1327.0L649.2,1324.0L649.3,1321.0L649.3,1318.0L649.3,1315.0L649.4,1311.9L649.4,1308.9L649.5,1305.9L649.5,1302.9L649.6,1299.9L649.6,1296.9L649.7,1293.9L649.8,1290.9L649.8,1287.9L649.9,1284.9L650.0,1281.9L650.0,1278.9L650.1,1275.9L650.2,1272.9L650.3,1269.9L650.3,1266.9L650.4,1263.9L650.5,1260.9L650.6,1257.9L650.7,1254.9L650.8,1251.9L650.9,1248.9L651.0,1245.9L651.1,1242.9L651.2,1239.9L651.3,1236.9L651.4,1233.9L651.5,1230.9L651.6,1227.9L651.8,1224.9L651.9,1221.9L652.0,1218.9L652.1,1215.9L652.2,1212.9L652.4,1209.9L652.5,1206.9L652.6,1203.8L652.8,1200.8L652.9,1197.8L653.1,1194.8L653.2,1191.8L653.3,1188.8L653.5,1185.8L653.6,1182.8L653.8,1179.8L654.0,1176.8L654.1,1173.8L654.3,1170.8L654.4,1167.8L654.6,1164.8L654.8,1161.8L655.0,1158.8L655.1,1155.8L655.3,1152.8L655.5,1149.9L655.7,1146.9L655.8,1143.9L656.0,1140.9L656.2,1137.9L656.4,1134.9L656.6,1131.9L656.8,1128.9L657.0,1125.9L657.2,1122.9L657.4,1119.9L657.6,1116.9L657.8,1113.9L658.0,1110.9L658.3,1107.9L658.5,1104.9L658.7,1101.9L658.9,1098.9L659.1,1095.9L659.4,1092.9L659.6,1089.9L659.8,1086.9L660.1,1083.9L660.3,1080.9L660.5,1077.9L660.8,1074.9L661.0,1071.9L661.3,1069.0L661.5,1066.0L661.8,1063.0L662.0,1060.0L662.3,1057.0L662.5,1054.0L662.8,1051.0L663.1,1048.0L663.3,1045.0L663.6,1042.0L663.9,1039.0L664.1,1036.0L664.4,1033.0L664.7,1030.1L665.0,1027.1L665.3,1024.1L665.6,1021.1L665.8,1018.1L666.1,1015.1L666.4,1012.1L666.7,1009.1L667.0,1006.1L667.3,1003.2L667.6,1000.2L667.9,997.2L668.3,994.2L668.6,991.2L668.9,988.2L669.2,985.2L669.5,982.2L669.8,979.3L670.2,976.3L670.5,973.3L670.8,970.3L671.2,967.3L671.5,964.3L671.8,961.3L672.2,958.4L672.5,955.4L672.9,952.4L673.2,949.4L673.6,946.4L673.9,943.4L674.3,940.5L674.6,937.5L675.0,934.5L675.3,931.5L675.7,928.5L676.1,925.6L676.4,922.6L676.8,919.6L677.2,916.6L677.6,913.6L678.0,910.7L678.3,907.7L678.7,904.7L679.1,901.7L679.5,898.7L679.9,895.8L680.3,892.8L680.7,889.8L681.1,886.8L681.5,883.9L681.9,880.9L682.3,877.9L682.7,874.9L683.1,872.0L683.6,869.0L684.0,866.0L684.4,863.0L684.8,860.1L685.2,857.1L685.7,854.1L686.1,851.2L686.5,848.2L687.0,845.2L687.4,842.2L687.9,839.3L688.3,836.3L688.7,833.3L689.2,830.4L689.6,827.4L690.1,824.4L690.6,821.5L691.0,818.5L691.5,815.5L691.9,812.6L692.4,809.6L692.9,806.6L693.4,803.7L693.8,800.7L694.3,797.7L694.8,794.8L695.3,791.8L695.8,788.8L696.2,785.9L696.7,782.9L697.2,779.9L697.7,777.0L698.2,774.0L698.7,771.1L699.2,768.1L699.7,765.1L700.2,762.2L700.7,759.2L701.3,756.3L701.8,753.3L702.3,750.3L702.8,747.4L703.3,744.4L703.9,741.5L704.4,738.5L704.9,735.6L705.5,732.6L706.0,729.7L706.5,726.7L707.1,723.7L707.6,720.8L708.2,717.8L708.7,714.9L709.3,711.9L709.8,709.0L710.4,706.0L710.9,703.1L711.5,700.1L712.1,697.2L712.6,694.2L713.2,691.3L713.8,688.3L714.3,685.4L714.9,682.4L715.5,679.5L716.1,676.5L716.7,673.6L717.2,670.7L717.8,667.7L718.4,664.8L719.0,661.8L719.6,658.9L720.2,655.9L720.8,653.0L721.4,650.1L722.0,647.1L722.6,644.2L723.3,641.2L723.9,638.3L724.5,635.4L725.1,632.4L725.7,629.5L726.4,626.5L727.0,623.6L727.6,620.7L728.3,617.7L728.9,614.8L729.5,611.9L730.2,608.9L730.8,606.0L731.5,603.1L732.1,600.1L732.8,597.2L733.4,594.3L734.1,591.3L734.7,588.4L735.4,585.5L736.1,582.6L736.7,579.6L737.4,576.7 Z" fill="none" stroke="#000" stroke-width="3.3" stroke-linejoin="miter"/>
<path d="M846.6,920.3L849.5,919.9L852.4,919.5L855.3,919.1L858.2,918.7L861.1,918.3L864.1,917.9L867.0,917.6L869.9,917.2L872.9,916.9L875.8,916.5L878.8,916.2L881.7,915.9L884.7,915.6L887.6,915.3L890.6,915.0L893.6,914.7L896.6,914.5L899.5,914.2L902.5,913.9L905.5,913.7L908.5,913.5L911.5,913.2L914.5,913.0L917.5,912.8L920.5,912.6L923.5,912.5L926.5,912.3L929.6,912.1L932.6,912.0L935.6,911.8L938.6,911.7L941.7,911.6L944.7,911.5L947.7,911.4L950.7,911.3L953.8,911.2L956.8,911.1L959.9,911.1L962.9,911.1L965.9,911.0L969.0,911.0L972.0,911.0L975.1,911.0L978.1,911.0L981.2,911.0L984.2,911.1L987.3,911.1L990.3,911.2L993.4,911.3L996.4,911.4L999.5,911.5L1002.5,911.6L1005.6,911.7L1008.6,911.8L1011.7,912.0L1014.7,912.1L1017.8,912.3L1020.8,912.5L1023.9,912.7L1026.9,912.9L1029.9,913.1L1033.0,913.4L1036.0,913.6L1039.1,913.9L1042.1,914.2L1045.1,914.5L1048.2,914.8L1051.2,915.1L1054.2,915.4L1057.2,915.8L1060.3,916.1L1063.3,916.5L1066.3,916.9L1069.3,917.3L1072.3,917.7L1075.4,918.2L1078.4,918.6L1081.4,919.1L1084.4,919.5L1087.4,920.0L1090.3,920.5L1093.3,921.0L1096.3,921.6L1099.3,922.1L1102.3,922.7L1105.2,923.3L1108.2,923.9L1111.2,924.5L1114.1,925.1L1117.1,925.7L1120.0,926.4L1123.0,927.0L1125.9,927.7L1128.8,928.4L1131.8,929.1L1134.7,929.9L1137.6,930.6L1140.5,931.4L1143.4,932.2L1146.3,933.0L1149.2,933.8L1152.1,934.6L1155.0,935.4L1157.8,936.3L1160.7,937.2L1163.6,938.1L1166.4,939.0L1169.3,939.9L1172.1,940.9L1174.9,941.8L1177.7,942.8L1180.6,943.8L1183.4,944.8L1186.2,945.8L1189.0,946.9L1191.7,947.9L1194.5,949.0L1197.3,950.1L1200.0,951.2L1202.8,952.4L1205.5,953.5L1208.2,954.7L1211.0,955.9L1213.7,957.1L1216.4,958.3L1219.1,959.6L1221.8,960.8L1224.4,962.1L1227.1,963.4L1229.8,964.7L1232.4,966.0L1235.0,967.4L1237.7,968.8L1240.3,970.2L1242.9,971.6L1245.5,973.0L1248.0,974.4L1250.6,975.9L1253.2,977.4L1255.7,978.9L1258.3,980.4L1260.8,982.0L1263.3,983.5L1265.8,985.1L1268.3,986.7L1270.8,988.3L1273.2,990.0L1275.7,991.6L1278.1,993.3L1280.6,995.0L1283.0,996.8L1285.4,998.5L1287.8,1000.3L1290.2,1002.0L1292.5,1003.8L1294.9,1005.7L1297.2,1007.5L1299.6,1009.3L1301.9,1011.2L1304.2,1013.1L1306.5,1015.0L1308.8,1016.9L1311.1,1018.9L1313.3,1020.8L1315.6,1022.8L1317.8,1024.8L1320.1,1026.8L1322.3,1028.8L1324.5,1030.8L1326.7,1032.8L1328.9,1034.9L1331.1,1037.0L1333.3,1039.1L1335.5,1041.2L1337.6,1043.3L1339.8,1045.4L1341.9,1047.5L1344.0,1049.7L1346.2,1051.8L1348.3,1054.0L1350.4,1056.2L1352.5,1058.4L1354.6,1060.6L1356.7,1062.8L1358.7,1065.0L1360.8,1067.2L1362.8,1069.5L1364.9,1071.7L1366.9,1074.0L1369.0,1076.2L1371.0,1078.5L1373.0,1080.8L1375.0,1083.1L1377.0,1085.4L1379.0,1087.7L1381.0,1090.0L1383.0,1092.3L1385.0,1094.6L1387.0,1096.9L1388.9,1099.3L1390.9,1101.6L1392.8,1103.9L1394.8,1106.3L1396.7,1108.6L1398.7,1111.0L1400.6,1113.4L1402.5,1115.7L1404.4,1118.1L1406.4,1120.5L1408.3,1122.8L1410.2,1125.2L1412.1,1127.6L1414.0,1129.9L1415.9,1132.3L1417.8,1134.7L1419.7,1137.1L1421.5,1139.5L1423.4,1141.9L1425.3,1144.2L1427.2,1146.6L1429.1,1149.0L1430.9,1151.4L1432.8,1153.8L1434.7,1156.2L1436.6,1158.5L1438.4,1160.9L1440.3,1163.3L1442.2,1165.7L1444.1,1168.1L1445.9,1170.4L1447.8,1172.8L1449.7,1175.2L1451.5,1177.5L1453.4,1179.9L1455.3,1182.3L1457.2,1184.6L1459.0,1187.0L1460.9,1189.3L1462.8,1191.7L1464.7,1194.0L1466.6,1196.4L1468.5,1198.7L1470.4,1201.0L1472.3,1203.3L1474.2,1205.7L1476.1,1208.0L1478.0,1210.3L1479.9,1212.6L1481.8,1214.9L1483.8,1217.1L1485.7,1219.4L1487.6,1221.7L1489.6,1224.0L1491.5,1226.2L1493.5,1228.5L1495.4,1230.7L1497.4,1232.9L1499.4,1235.2L1501.3,1237.4L1503.3,1239.6L1505.3,1241.8L1507.3,1244.0L1509.3,1246.1L1511.4,1248.3L1513.4,1250.5L1515.4,1252.6L1517.5,1254.8L1519.5,1256.9L1521.6,1259.0L1519.1,1260.7L1516.7,1262.5L1514.2,1264.2L1511.8,1265.9L1509.3,1267.7L1506.9,1269.5L1504.5,1271.3L1502.1,1273.1L1499.7,1274.9L1497.3,1276.7L1494.9,1278.5L1492.5,1280.3L1490.1,1282.2L1487.7,1284.0L1485.3,1285.9L1483.0,1287.8L1480.6,1289.6L1478.3,1291.5L1475.9,1293.4L1473.6,1295.4L1471.3,1297.3L1469.0,1299.2L1466.7,1301.2L1464.4,1303.1L1462.1,1305.1L1459.8,1307.1L1457.5,1309.0L1455.2,1311.0L1453.0,1313.0L1450.7,1315.0L1448.5,1317.1L1446.3,1319.1L1444.0,1321.1L1441.8,1323.2L1439.6,1325.3L1437.4,1327.3L1435.2,1329.4L1433.1,1331.5L1430.9,1333.6L1428.7,1335.7L1426.6,1337.8L1424.4,1340.0L1422.3,1342.1L1420.2,1344.2L1418.1,1346.4L1416.0,1348.6L1413.9,1350.7L1411.8,1352.9L1409.7,1355.1L1407.7,1357.3L1405.6,1359.5L1403.6,1361.8L1401.6,1364.0L1399.6,1366.2L1397.5,1368.5L1395.5,1370.8L1393.6,1373.0L1391.6,1375.3L1389.6,1377.6L1387.7,1379.9L1385.7,1382.2L1383.8,1384.5L1381.9,1386.8L1380.0,1389.2L1378.1,1391.5L1376.2,1393.9L1374.3,1396.2L1372.5,1398.6L1370.6,1401.0L1368.8,1403.4L1367.0,1405.8L1365.1,1408.2L1363.3,1410.6L1361.6,1413.0L1359.8,1415.4L1358.0,1417.9L1356.3,1420.3L1354.5,1422.8L1352.8,1425.3L1351.1,1427.7L1349.4,1430.2L1347.7,1432.7L1346.0,1435.2L1344.4,1437.7L1342.7,1440.3L1341.1,1442.8L1339.5,1445.3L1337.9,1447.9L1336.3,1450.4L1334.7,1453.0L1331.9,1454.1L1329.1,1455.2L1326.3,1456.3L1323.6,1457.5L1320.8,1458.6L1318.0,1459.7L1315.2,1460.8L1312.4,1461.9L1309.6,1463.0L1306.8,1464.1L1304.0,1465.2L1301.2,1466.3L1298.4,1467.4L1295.6,1468.5L1292.9,1469.6L1290.1,1470.7L1287.3,1471.7L1284.5,1472.8L1281.7,1473.9L1278.9,1475.0L1276.1,1476.1L1273.3,1477.2L1270.5,1478.3L1267.7,1479.3L1264.9,1480.4L1262.1,1481.5L1259.3,1482.6L1256.5,1483.6L1253.7,1484.7L1250.9,1485.8L1248.1,1486.8L1245.3,1487.9L1242.4,1489.0L1239.6,1490.0L1236.8,1491.1L1234.0,1492.1L1231.2,1493.2L1228.4,1494.2L1225.6,1495.3L1222.8,1496.3L1220.0,1497.4L1217.2,1498.4L1214.4,1499.5L1211.5,1500.5L1208.7,1501.6L1205.9,1502.6L1203.1,1503.7L1200.3,1504.7L1197.5,1505.7L1194.7,1506.8L1191.8,1507.8L1189.0,1508.8L1186.2,1509.9L1183.4,1510.9L1180.6,1511.9L1177.7,1512.9L1174.9,1514.0L1172.1,1515.0L1169.3,1516.0L1166.5,1517.0L1163.6,1518.0L1160.8,1519.1L1158.0,1520.1L1155.2,1521.1L1152.3,1522.1L1149.5,1523.1L1146.7,1524.1L1143.9,1525.1L1141.0,1526.1L1138.2,1527.1L1135.4,1528.1L1132.5,1529.1L1129.7,1530.1L1126.9,1531.1L1124.1,1532.1L1121.2,1533.1L1118.4,1534.1L1115.6,1535.1L1112.7,1536.1L1109.9,1537.1L1107.1,1538.0L1104.2,1539.0L1101.4,1540.0L1098.6,1541.0L1095.7,1542.0L1092.9,1543.0L1090.0,1543.9L1087.2,1544.9L1084.4,1545.9L1081.5,1546.8L1078.7,1547.8L1075.8,1548.8L1073.0,1549.8L1070.2,1550.7L1067.3,1551.7L1064.5,1552.6L1061.6,1553.6L1058.8,1554.6L1056.0,1555.5L1053.1,1556.5L1050.3,1557.4L1047.4,1558.4L1044.6,1559.3L1041.7,1560.3L1038.9,1561.2L1036.0,1562.2L1033.2,1563.1L1030.3,1564.1L1027.5,1565.0L1024.6,1566.0L1021.8,1566.9L1018.9,1567.8L1016.1,1568.8L1013.2,1569.7L1010.4,1570.6L1007.5,1571.6L1004.7,1572.5L1001.8,1573.4L999.0,1574.4L996.1,1575.3L993.3,1576.2L990.4,1577.1L987.6,1578.0L984.7,1579.0L981.8,1579.9L979.0,1580.8L976.1,1581.7L973.3,1582.6L970.4,1583.5L967.6,1584.5L964.7,1585.4L961.8,1586.3L959.0,1587.2L956.1,1588.1L953.3,1589.0L950.4,1589.9L947.5,1590.8L944.7,1591.7L941.8,1592.6L938.9,1593.5L936.1,1594.4L933.2,1595.3L930.3,1596.2L927.5,1597.1L924.6,1597.9L921.7,1598.8L918.9,1599.7L916.0,1600.6L913.1,1601.5L910.3,1602.4L907.4,1603.2L904.5,1604.1L901.7,1605.0L898.8,1605.9L895.9,1606.8L893.1,1607.6L890.2,1608.5L887.3,1609.4L884.4,1610.2L881.6,1611.1L878.7,1612.0L875.8,1612.8L873.0,1613.7L870.1,1614.6L867.2,1615.4L864.3,1616.3L861.5,1617.1L858.6,1618.0L855.7,1618.8L852.8,1619.7L850.0,1620.6L847.1,1621.4L844.2,1622.3L841.3,1623.1L838.4,1623.9L835.6,1624.8L832.7,1625.6L829.8,1626.5L826.9,1627.3L824.0,1628.2L821.2,1629.0L818.3,1629.8L815.4,1630.7L812.5,1631.5L809.6,1632.3L806.8,1633.2L803.9,1634.0L801.0,1634.8L798.1,1635.7L795.2,1636.5L792.3,1637.3L789.4,1638.1L786.6,1638.9L783.7,1639.8L780.8,1640.6L777.9,1641.4L775.0,1642.2L772.1,1643.0L769.2,1643.9L766.4,1644.7L763.5,1645.5L760.6,1646.3L757.7,1647.1L754.8,1647.9 L668.0,1489.8L669.2,1487.0L670.4,1484.3L671.5,1481.5L672.7,1478.7L673.9,1476.0L675.1,1473.2L676.2,1470.4L677.4,1467.7L678.6,1464.9L679.7,1462.1L680.9,1459.4L682.1,1456.6L683.2,1453.8L684.4,1451.0L685.5,1448.3L686.7,1445.5L687.9,1442.7L689.0,1439.9L690.2,1437.2L691.3,1434.4L692.5,1431.6L693.6,1428.8L694.8,1426.0L695.9,1423.2L697.1,1420.5L698.2,1417.7L699.3,1414.9L700.5,1412.1L701.6,1409.3L702.8,1406.5L703.9,1403.8L705.0,1401.0L706.1,1398.2L707.3,1395.4L708.4,1392.6L709.5,1389.8L710.6,1387.0L711.8,1384.2L712.9,1381.4L714.0,1378.6L715.1,1375.8L716.2,1373.0L717.3,1370.2L718.4,1367.4L719.5,1364.6L720.6,1361.8L721.7,1359.0L722.8,1356.2L723.9,1353.4L725.0,1350.6L726.1,1347.8L727.2,1345.0L728.3,1342.2L729.4,1339.4L730.4,1336.6L731.5,1333.8L732.6,1331.0L733.7,1328.1L734.7,1325.3L735.8,1322.5L736.9,1319.7L737.9,1316.9L739.0,1314.1L740.0,1311.3L741.1,1308.4L742.1,1305.6L743.2,1302.8L744.2,1300.0L745.3,1297.1L746.3,1294.3L747.4,1291.5L748.4,1288.7L749.4,1285.8L750.4,1283.0L751.5,1280.2L752.5,1277.4L753.5,1274.5L754.5,1271.7L755.5,1268.9L756.5,1266.0L757.5,1263.2L758.5,1260.4L759.5,1257.5L760.5,1254.7L761.5,1251.8L762.5,1249.0L763.5,1246.2L764.5,1243.3L765.5,1240.5L766.4,1237.6L767.4,1234.8L768.4,1231.9L769.3,1229.1L770.3,1226.2L771.3,1223.4L772.2,1220.5L773.2,1217.7L774.1,1214.8L775.1,1212.0L776.0,1209.1L776.9,1206.3L777.9,1203.4L778.8,1200.6L779.7,1197.7L780.6,1194.8L781.6,1192.0L782.5,1189.1L783.4,1186.2L784.3,1183.4L785.2,1180.5L786.1,1177.6L787.0,1174.8L787.9,1171.9L788.8,1169.0L789.6,1166.2L790.5,1163.3L791.4,1160.4L792.3,1157.5L793.1,1154.7L794.0,1151.8L794.8,1148.9L795.7,1146.0L796.5,1143.1L797.4,1140.3L798.2,1137.4L799.1,1134.5L799.9,1131.6L800.7,1128.7L801.5,1125.8L802.4,1122.9L803.2,1120.0L804.0,1117.1L804.8,1114.3L805.6,1111.4L806.4,1108.5L807.2,1105.6L808.0,1102.7L808.7,1099.8L809.5,1096.9L810.3,1094.0L811.1,1091.1L811.8,1088.1L812.6,1085.2L813.3,1082.3L814.1,1079.4L814.8,1076.5L815.6,1073.6L816.3,1070.7L817.0,1067.8L817.7,1064.9L818.5,1061.9L819.2,1059.0L819.9,1056.1L820.6,1053.2L821.3,1050.3L822.0,1047.3L822.7,1044.4L823.4,1041.5L824.0,1038.6L824.7,1035.6L825.4,1032.7L826.0,1029.8L826.7,1026.8L827.3,1023.9L828.0,1021.0L828.6,1018.0L829.3,1015.1L829.9,1012.1L830.5,1009.2L831.1,1006.3L831.8,1003.3L832.4,1000.4L833.0,997.4L833.6,994.5L834.2,991.5L834.7,988.6L835.3,985.6L835.9,982.7L836.5,979.7L837.0,976.8L837.6,973.8L838.1,970.8L838.7,967.9L839.2,964.9L839.8,961.9L840.3,959.0L840.8,956.0L841.3,953.0L841.8,950.1L842.3,947.1L842.8,944.1L843.3,941.2L843.8,938.2L844.3,935.2L844.8,932.2L845.2,929.2L845.7,926.3L846.1,923.3L846.6,920.3 Z" fill="none" stroke="#000" stroke-width="3.3" stroke-linejoin="miter"/>
<path d="M875.1,737.4 L1744.1,1322.5" fill="none" stroke="#000" stroke-width="3.3" stroke-dasharray="18 7.2"/>
<path d="M861.3,743.1 L620.4,1973.0" fill="none" stroke="#000" stroke-width="3.3" stroke-dasharray="18 7.2"/>
<path d="M632.1,1966.2 L1744.1,1322.5" fill="none" stroke="#000" stroke-width="3.3" stroke-dasharray="18 7.2"/>
<path d="M1216.1,472.2 L1028.2,721.6 M1332.2,625.2 L1194.5,761.2 M1480,846.3 L1279.5,992.5" stroke="#000" stroke-width="3.3" fill="none"/>
<circle cx="661.0" cy="2071.5" r="14.3" fill="#000"/>
<circle cx="489.4" cy="1784.0" r="14.3" fill="#000"/>
<circle cx="387.7" cy="1432.5" r="14.3" fill="#000"/>
<circle cx="319.0" cy="902.2" r="14.3" fill="#000"/>
<circle cx="333.1" cy="449.8" r="14.3" fill="#000"/>
<circle cx="455.1" cy="266.7" r="14.3" fill="#000"/>
<circle cx="828.5" cy="444.2" r="14.3" fill="#000"/>
<circle cx="1150.6" cy="724.9" r="14.3" fill="#000"/>
<circle cx="1433.1" cy="996.4" r="14.3" fill="#000"/>
<circle cx="1681.0" cy="1245.3" r="14.3" fill="#000"/>
<circle cx="1910.7" cy="1485.0" r="14.3" fill="#000"/>
<circle cx="863.9" cy="729.9" r="14.3" fill="#000"/>
<circle cx="1744.1" cy="1322.5" r="14.3" fill="#000"/>
<circle cx="620.4" cy="1973.0" r="14.3" fill="#000"/>
<rect x="298.6" y="74.6" width="1765.8" height="2010.8" fill="none" stroke="#f6f6f6" stroke-width="1.2"/>
<rect x="295.5" y="71.5" width="1772" height="2017" fill="none" stroke="#000" stroke-width="5"/>
<path d="M71.6,128 L71.6,236" stroke="#000" stroke-width="3" fill="none"/>
<path d="M71.6,94 Q74,116 84,135 Q76,129.5 71.6,129.5 Q67,129.5 59,135 Q69,116 71.6,94 Z" fill="#000"/>
<path d="M1861,2242.3 L1964,2242.3" stroke="#000" stroke-width="3" fill="none"/>
<path d="M2001,2242.3 Q1980,2245 1960,2254.5 Q1965.5,2247 1965.5,2242.3 Q1965.5,2237.5 1960,2230 Q1980,2239.5 2001,2242.3 Z" fill="#000"/>
<g font-family="Liberation Serif" fill="#000" stroke="#000" stroke-width="0.5">
<text transform="translate(425.9,348.4) scale(1,1.010)" font-size="68">520</text>
<text transform="translate(359.0,481.1) scale(1,1.010)" font-size="68">510</text>
<text transform="translate(347.6,928.3) scale(1,1.010)" font-size="68">500</text>
<text transform="translate(410.9,1446.3) scale(1,1.010)" font-size="68">490</text>
<text transform="translate(520.1,1795.4) scale(1,1.010)" font-size="68">480</text>
<text transform="translate(524.6,2080.9) scale(1,1.010)" font-size="68">400</text>
<text transform="translate(692.9,494.4) scale(1,1.010)" font-size="68">540</text>
<text transform="translate(1136.9,703.3) scale(1,1.010)" font-size="68">560</text>
<text transform="translate(1455.3,999.8) scale(1,1.010)" font-size="68">580</text>
<text transform="translate(1701.5,1250.3) scale(1,1.010)" font-size="68">600</text>
<text transform="translate(1931.9,1505.4) scale(1,1.010)" font-size="68">700</text>
<text transform="translate(191.8,319.5) scale(1,1.010)" font-size="68">0.8</text>
<text transform="translate(192.1,542.6) scale(1,1.010)" font-size="68">0.7</text>
<text transform="translate(192.4,766.5) scale(1,1.010)" font-size="68">0.6</text>
<text transform="translate(192.6,990.2) scale(1,1.010)" font-size="68">0.5</text>
<text transform="translate(192.9,1214.6) scale(1,1.010)" font-size="68">0.4</text>
<text transform="translate(193.2,1439.5) scale(1,1.010)" font-size="68">0.3</text>
<text transform="translate(193.5,1665.0) scale(1,1.010)" font-size="68">0.2</text>
<text transform="translate(193.8,1888.5) scale(1,1.010)" font-size="68">0.1</text>
<text transform="translate(515.5,2162.0) scale(1,1.010)" font-size="68" text-anchor="middle">0.1</text>
<text transform="translate(736.5,2162.0) scale(1,1.010)" font-size="68" text-anchor="middle">0.2</text>
<text transform="translate(958.7,2162.0) scale(1,1.010)" font-size="68" text-anchor="middle">0.3</text>
<text transform="translate(1180.5,2162.0) scale(1,1.010)" font-size="68" text-anchor="middle">0.4</text>
<text transform="translate(1403.4,2162.0) scale(1,1.010)" font-size="68" text-anchor="middle">0.5</text>
<text transform="translate(1625.0,2162.0) scale(1,1.010)" font-size="68" text-anchor="middle">0.6</text>
<text transform="translate(1846.0,2162.0) scale(1,1.010)" font-size="68" text-anchor="middle">0.7</text>
<text x="1223.7" y="468.5" font-size="68.5">Film</text>
<text x="1343.4" y="621.5" font-size="67">Colour monitor</text>
<text x="1487.0" y="845.5" font-size="67">Printing inks</text>
<text transform="translate(57.2,293.3) scale(0.87,1)" font-size="66" font-style="italic">y</text>
<text x="1814.0" y="2267.0" font-size="68" font-style="italic">x</text>
</g>
</svg></body></html>
